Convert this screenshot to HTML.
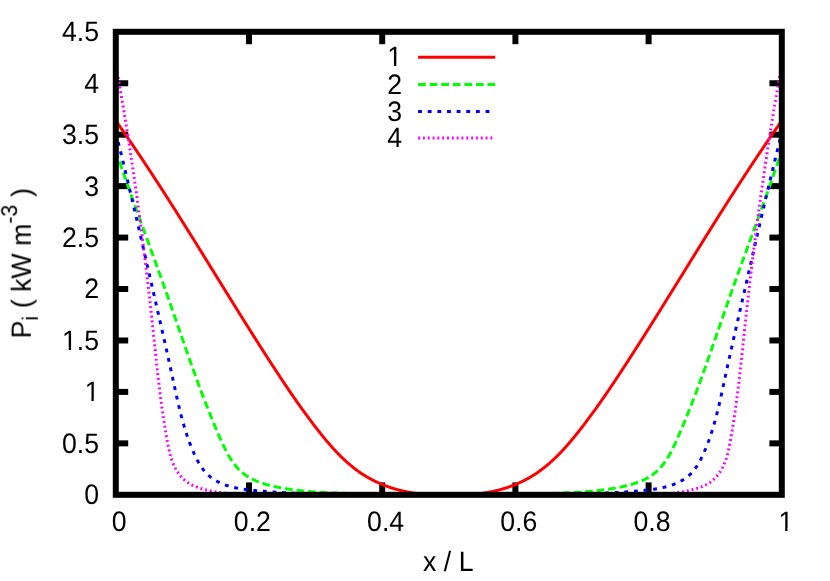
<!DOCTYPE html>
<html lang="en">
<head>
<meta charset="utf-8">
<title>P_i vs x / L</title>
<style>
html, body { margin: 0; padding: 0; background: #ffffff; }
body { width: 830px; height: 581px; overflow: hidden; font-family: "Liberation Sans", sans-serif; }
svg { display: block; }
</style>
</head>
<body>
<svg width="830" height="581" viewBox="0 0 830 581">
<rect x="0" y="0" width="830" height="581" fill="#ffffff"/>
<g stroke="#000" stroke-width="6.0" stroke-linecap="butt" fill="none">
<path d="M115.80,443.36 h12.4"/>
<path d="M781.80,443.36 h-12.4"/>
<path d="M115.80,391.91 h12.4"/>
<path d="M781.80,391.91 h-12.4"/>
<path d="M115.80,340.47 h12.4"/>
<path d="M781.80,340.47 h-12.4"/>
<path d="M115.80,289.02 h12.4"/>
<path d="M781.80,289.02 h-12.4"/>
<path d="M115.80,237.58 h12.4"/>
<path d="M781.80,237.58 h-12.4"/>
<path d="M115.80,186.13 h12.4"/>
<path d="M781.80,186.13 h-12.4"/>
<path d="M115.80,134.69 h12.4"/>
<path d="M781.80,134.69 h-12.4"/>
<path d="M115.80,83.24 h12.4"/>
<path d="M781.80,83.24 h-12.4"/>
<path d="M249.00,494.80 v-12.4"/>
<path d="M249.00,31.80 v12.4"/>
<path d="M382.20,494.80 v-12.4"/>
<path d="M382.20,31.80 v12.4"/>
<path d="M515.40,494.80 v-12.4"/>
<path d="M515.40,31.80 v12.4"/>
<path d="M648.60,494.80 v-12.4"/>
<path d="M648.60,31.80 v12.4"/>
</g>
<clipPath id="c"><rect x="115.8" y="31.8" width="666.0" height="463.0"/></clipPath>
<g fill="none" stroke-width="3.0" stroke-linecap="butt" stroke-linejoin="round" clip-path="url(#c)">
<path stroke="#ff0000" d="M115.80,120.70 L116.17,121.22 L116.54,121.75 L116.91,122.27 L117.28,122.80 L117.65,123.33 L118.02,123.85 L118.39,124.38 L118.76,124.91 L119.13,125.44 L119.50,125.97 L119.87,126.49 L120.24,127.02 L120.62,127.55 L120.99,128.09 L121.36,128.62 L121.73,129.15 L122.10,129.68 L122.47,130.21 L122.84,130.75 L123.21,131.28 L123.58,131.81 L123.95,132.35 L124.32,132.88 L124.69,133.42 L125.06,133.95 L125.43,134.49 L125.80,135.03 L126.17,135.56 L126.54,136.10 L126.91,136.64 L127.28,137.18 L127.65,137.72 L128.02,138.26 L128.39,138.80 L128.76,139.34 L129.13,139.88 L129.51,140.42 L129.88,140.96 L130.25,141.50 L130.62,142.04 L130.99,142.59 L131.36,143.13 L131.73,143.67 L132.10,144.22 L132.47,144.76 L132.84,145.31 L133.21,145.85 L133.58,146.40 L133.95,146.95 L134.32,147.49 L134.69,148.04 L135.06,148.59 L135.43,149.14 L135.80,149.69 L136.17,150.23 L136.54,150.78 L136.91,151.33 L137.28,151.88 L137.65,152.43 L138.02,152.99 L138.40,153.54 L138.77,154.09 L139.14,154.64 L139.51,155.19 L139.88,155.75 L140.25,156.30 L140.62,156.86 L140.99,157.41 L141.36,157.96 L141.73,158.52 L142.10,159.08 L142.47,159.63 L142.84,160.19 L143.21,160.74 L143.58,161.30 L143.95,161.86 L144.32,162.42 L144.69,162.98 L145.06,163.54 L145.43,164.09 L145.80,164.65 L146.17,165.21 L146.54,165.77 L146.91,166.34 L147.28,166.90 L147.66,167.46 L148.03,168.02 L148.40,168.58 L148.77,169.14 L149.14,169.71 L149.51,170.27 L149.88,170.84 L150.25,171.40 L150.62,171.96 L150.99,172.53 L151.36,173.09 L151.73,173.66 L152.10,174.23 L152.47,174.79 L152.84,175.36 L153.21,175.93 L153.58,176.49 L153.95,177.06 L154.32,177.63 L154.69,178.20 L155.06,178.77 L155.43,179.34 L155.80,179.91 L156.17,180.48 L156.55,181.05 L156.92,181.62 L157.29,182.19 L157.66,182.76 L158.03,183.33 L158.40,183.90 L158.77,184.47 L159.14,185.05 L159.51,185.62 L159.88,186.19 L160.25,186.77 L160.62,187.34 L160.99,187.92 L161.36,188.49 L161.73,189.07 L162.10,189.64 L162.47,190.22 L162.84,190.79 L163.21,191.37 L163.58,191.94 L163.95,192.52 L164.32,193.10 L164.69,193.68 L165.06,194.25 L165.44,194.83 L165.81,195.41 L166.18,195.99 L166.55,196.57 L166.92,197.15 L167.29,197.73 L167.66,198.31 L168.03,198.89 L168.40,199.47 L168.77,200.05 L169.14,200.63 L169.51,201.21 L169.88,201.79 L170.25,202.37 L170.62,202.95 L170.99,203.54 L171.36,204.12 L171.73,204.70 L172.10,205.28 L172.47,205.87 L172.84,206.45 L173.21,207.04 L173.58,207.62 L173.95,208.20 L174.33,208.79 L174.70,209.37 L175.07,209.96 L175.44,210.54 L175.81,211.13 L176.18,211.72 L176.55,212.30 L176.92,212.89 L177.29,213.47 L177.66,214.06 L178.03,214.65 L178.40,215.24 L178.77,215.82 L179.14,216.41 L179.51,217.00 L179.88,217.59 L180.25,218.18 L180.62,218.76 L180.99,219.35 L181.36,219.94 L181.73,220.53 L182.10,221.12 L182.47,221.71 L182.84,222.30 L183.21,222.89 L183.59,223.48 L183.96,224.07 L184.33,224.66 L184.70,225.25 L185.07,225.84 L185.44,226.43 L185.81,227.03 L186.18,227.62 L186.55,228.21 L186.92,228.80 L187.29,229.39 L187.66,229.99 L188.03,230.58 L188.40,231.17 L188.77,231.76 L189.14,232.36 L189.51,232.95 L189.88,233.54 L190.25,234.14 L190.62,234.73 L190.99,235.32 L191.36,235.92 L191.73,236.51 L192.10,237.11 L192.48,237.70 L192.85,238.30 L193.22,238.89 L193.59,239.48 L193.96,240.08 L194.33,240.67 L194.70,241.27 L195.07,241.87 L195.44,242.46 L195.81,243.06 L196.18,243.65 L196.55,244.25 L196.92,244.84 L197.29,245.44 L197.66,246.04 L198.03,246.63 L198.40,247.23 L198.77,247.83 L199.14,248.42 L199.51,249.02 L199.88,249.62 L200.25,250.21 L200.62,250.81 L200.99,251.41 L201.37,252.00 L201.74,252.60 L202.11,253.20 L202.48,253.80 L202.85,254.39 L203.22,254.99 L203.59,255.59 L203.96,256.19 L204.33,256.78 L204.70,257.38 L205.07,257.98 L205.44,258.58 L205.81,259.17 L206.18,259.77 L206.55,260.37 L206.92,260.97 L207.29,261.57 L207.66,262.17 L208.03,262.76 L208.40,263.36 L208.77,263.96 L209.14,264.56 L209.51,265.16 L209.88,265.76 L210.25,266.35 L210.63,266.95 L211.00,267.55 L211.37,268.15 L211.74,268.75 L212.11,269.35 L212.48,269.95 L212.85,270.54 L213.22,271.14 L213.59,271.74 L213.96,272.34 L214.33,272.94 L214.70,273.54 L215.07,274.14 L215.44,274.74 L215.81,275.33 L216.18,275.93 L216.55,276.53 L216.92,277.13 L217.29,277.73 L217.66,278.33 L218.03,278.93 L218.40,279.52 L218.77,280.12 L219.14,280.72 L219.52,281.32 L219.89,281.92 L220.26,282.52 L220.63,283.11 L221.00,283.71 L221.37,284.31 L221.74,284.91 L222.11,285.51 L222.48,286.11 L222.85,286.70 L223.22,287.30 L223.59,287.90 L223.96,288.50 L224.33,289.10 L224.70,289.69 L225.07,290.29 L225.44,290.89 L225.81,291.49 L226.18,292.08 L226.55,292.68 L226.92,293.28 L227.29,293.87 L227.66,294.47 L228.03,295.07 L228.41,295.67 L228.78,296.26 L229.15,296.86 L229.52,297.46 L229.89,298.05 L230.26,298.65 L230.63,299.25 L231.00,299.84 L231.37,300.44 L231.74,301.03 L232.11,301.63 L232.48,302.23 L232.85,302.82 L233.22,303.42 L233.59,304.01 L233.96,304.61 L234.33,305.20 L234.70,305.80 L235.07,306.39 L235.44,306.99 L235.81,307.58 L236.18,308.18 L236.55,308.77 L236.92,309.36 L237.29,309.96 L237.67,310.55 L238.04,311.15 L238.41,311.74 L238.78,312.33 L239.15,312.93 L239.52,313.52 L239.89,314.11 L240.26,314.71 L240.63,315.30 L241.00,315.89 L241.37,316.48 L241.74,317.07 L242.11,317.67 L242.48,318.26 L242.85,318.85 L243.22,319.44 L243.59,320.03 L243.96,320.62 L244.33,321.21 L244.70,321.80 L245.07,322.39 L245.44,322.99 L245.81,323.58 L246.18,324.16 L246.56,324.75 L246.93,325.34 L247.30,325.93 L247.67,326.52 L248.04,327.11 L248.41,327.70 L248.78,328.29 L249.15,328.88 L249.52,329.46 L249.89,330.05 L250.26,330.64 L250.63,331.23 L251.00,331.81 L251.37,332.40 L251.74,332.99 L252.11,333.57 L252.48,334.16 L252.85,334.74 L253.22,335.33 L253.59,335.91 L253.96,336.50 L254.33,337.08 L254.70,337.67 L255.07,338.25 L255.45,338.84 L255.82,339.42 L256.19,340.00 L256.56,340.59 L256.93,341.17 L257.30,341.75 L257.67,342.34 L258.04,342.92 L258.41,343.50 L258.78,344.08 L259.15,344.66 L259.52,345.24 L259.89,345.82 L260.26,346.40 L260.63,346.98 L261.00,347.56 L261.37,348.14 L261.74,348.72 L262.11,349.30 L262.48,349.88 L262.85,350.46 L263.22,351.04 L263.59,351.62 L263.96,352.19 L264.34,352.77 L264.71,353.35 L265.08,353.92 L265.45,354.50 L265.82,355.08 L266.19,355.65 L266.56,356.23 L266.93,356.80 L267.30,357.38 L267.67,357.95 L268.04,358.53 L268.41,359.10 L268.78,359.67 L269.15,360.25 L269.52,360.82 L269.89,361.39 L270.26,361.96 L270.63,362.54 L271.00,363.11 L271.37,363.68 L271.74,364.25 L272.11,364.82 L272.48,365.39 L272.85,365.96 L273.22,366.53 L273.60,367.10 L273.97,367.67 L274.34,368.23 L274.71,368.80 L275.08,369.37 L275.45,369.94 L275.82,370.50 L276.19,371.07 L276.56,371.63 L276.93,372.20 L277.30,372.76 L277.67,373.33 L278.04,373.89 L278.41,374.45 L278.78,375.02 L279.15,375.58 L279.52,376.14 L279.89,376.70 L280.26,377.26 L280.63,377.82 L281.00,378.38 L281.37,378.94 L281.74,379.50 L282.11,380.06 L282.49,380.61 L282.86,381.17 L283.23,381.73 L283.60,382.28 L283.97,382.84 L284.34,383.39 L284.71,383.94 L285.08,384.50 L285.45,385.05 L285.82,385.60 L286.19,386.15 L286.56,386.70 L286.93,387.25 L287.30,387.80 L287.67,388.35 L288.04,388.89 L288.41,389.44 L288.78,389.99 L289.15,390.53 L289.52,391.08 L289.89,391.62 L290.26,392.16 L290.63,392.70 L291.00,393.24 L291.38,393.79 L291.75,394.33 L292.12,394.86 L292.49,395.40 L292.86,395.94 L293.23,396.48 L293.60,397.01 L293.97,397.55 L294.34,398.08 L294.71,398.61 L295.08,399.15 L295.45,399.68 L295.82,400.21 L296.19,400.74 L296.56,401.27 L296.93,401.80 L297.30,402.32 L297.67,402.85 L298.04,403.37 L298.41,403.90 L298.78,404.42 L299.15,404.95 L299.52,405.47 L299.89,405.99 L300.26,406.51 L300.64,407.03 L301.01,407.55 L301.38,408.06 L301.75,408.58 L302.12,409.10 L302.49,409.61 L302.86,410.12 L303.23,410.64 L303.60,411.15 L303.97,411.66 L304.34,412.17 L304.71,412.68 L305.08,413.19 L305.45,413.69 L305.82,414.20 L306.19,414.71 L306.56,415.21 L306.93,415.71 L307.30,416.22 L307.67,416.72 L308.04,417.22 L308.41,417.72 L308.78,418.21 L309.15,418.71 L309.53,419.21 L309.90,419.70 L310.27,420.20 L310.64,420.69 L311.01,421.18 L311.38,421.67 L311.75,422.16 L312.12,422.65 L312.49,423.14 L312.86,423.63 L313.23,424.12 L313.60,424.60 L313.97,425.08 L314.34,425.57 L314.71,426.05 L315.08,426.53 L315.45,427.01 L315.82,427.49 L316.19,427.97 L316.56,428.45 L316.93,428.92 L317.30,429.40 L317.67,429.87 L318.04,430.34 L318.42,430.81 L318.79,431.28 L319.16,431.75 L319.53,432.22 L319.90,432.69 L320.27,433.15 L320.64,433.62 L321.01,434.08 L321.38,434.54 L321.75,435.00 L322.12,435.46 L322.49,435.92 L322.86,436.38 L323.23,436.83 L323.60,437.28 L323.97,437.73 L324.34,438.18 L324.71,438.63 L325.08,439.08 L325.45,439.53 L325.82,439.97 L326.19,440.41 L326.56,440.85 L326.93,441.29 L327.31,441.73 L327.68,442.16 L328.05,442.60 L328.42,443.03 L328.79,443.46 L329.16,443.89 L329.53,444.31 L329.90,444.74 L330.27,445.16 L330.64,445.58 L331.01,446.00 L331.38,446.42 L331.75,446.84 L332.12,447.25 L332.49,447.66 L332.86,448.07 L333.23,448.48 L333.60,448.89 L333.97,449.29 L334.34,449.69 L334.71,450.09 L335.08,450.49 L335.45,450.89 L335.82,451.28 L336.19,451.68 L336.57,452.07 L336.94,452.45 L337.31,452.84 L337.68,453.23 L338.05,453.61 L338.42,453.99 L338.79,454.37 L339.16,454.74 L339.53,455.12 L339.90,455.49 L340.27,455.86 L340.64,456.23 L341.01,456.59 L341.38,456.96 L341.75,457.32 L342.12,457.68 L342.49,458.03 L342.86,458.39 L343.23,458.74 L343.60,459.09 L343.97,459.44 L344.34,459.79 L344.71,460.13 L345.08,460.48 L345.46,460.82 L345.83,461.15 L346.20,461.49 L346.57,461.82 L346.94,462.16 L347.31,462.49 L347.68,462.81 L348.05,463.14 L348.42,463.46 L348.79,463.78 L349.16,464.10 L349.53,464.42 L349.90,464.73 L350.27,465.05 L350.64,465.36 L351.01,465.66 L351.38,465.97 L351.75,466.27 L352.12,466.58 L352.49,466.88 L352.86,467.17 L353.23,467.47 L353.60,467.76 L353.97,468.05 L354.35,468.34 L354.72,468.63 L355.09,468.91 L355.46,469.20 L355.83,469.48 L356.20,469.75 L356.57,470.03 L356.94,470.30 L357.31,470.58 L357.68,470.85 L358.05,471.11 L358.42,471.38 L358.79,471.64 L359.16,471.90 L359.53,472.16 L359.90,472.42 L360.27,472.68 L360.64,472.93 L361.01,473.18 L361.38,473.43 L361.75,473.68 L362.12,473.92 L362.49,474.16 L362.86,474.40 L363.23,474.64 L363.61,474.88 L363.98,475.11 L364.35,475.35 L364.72,475.58 L365.09,475.81 L365.46,476.03 L365.83,476.26 L366.20,476.48 L366.57,476.70 L366.94,476.92 L367.31,477.14 L367.68,477.35 L368.05,477.56 L368.42,477.78 L368.79,477.98 L369.16,478.19 L369.53,478.40 L369.90,478.60 L370.27,478.81 L370.64,479.01 L371.01,479.20 L371.38,479.40 L371.75,479.60 L372.12,479.79 L372.50,479.98 L372.87,480.17 L373.24,480.36 L373.61,480.55 L373.98,480.74 L374.35,480.92 L374.72,481.10 L375.09,481.28 L375.46,481.46 L375.83,481.64 L376.20,481.82 L376.57,481.99 L376.94,482.16 L377.31,482.34 L377.68,482.51 L378.05,482.68 L378.42,482.84 L378.79,483.01 L379.16,483.17 L379.53,483.33 L379.90,483.50 L380.27,483.66 L380.64,483.81 L381.01,483.97 L381.39,484.13 L381.76,484.28 L382.13,484.43 L382.50,484.59 L382.87,484.74 L383.24,484.88 L383.61,485.03 L383.98,485.18 L384.35,485.32 L384.72,485.47 L385.09,485.61 L385.46,485.75 L385.83,485.89 L386.20,486.03 L386.57,486.16 L386.94,486.30 L387.31,486.43 L387.68,486.57 L388.05,486.70 L388.42,486.83 L388.79,486.96 L389.16,487.08 L389.53,487.21 L389.90,487.34 L390.27,487.46 L390.65,487.58 L391.02,487.71 L391.39,487.83 L391.76,487.95 L392.13,488.06 L392.50,488.18 L392.87,488.30 L393.24,488.41 L393.61,488.52 L393.98,488.64 L394.35,488.75 L394.72,488.86 L395.09,488.97 L395.46,489.07 L395.83,489.18 L396.20,489.29 L396.57,489.39 L396.94,489.49 L397.31,489.59 L397.68,489.70 L398.05,489.80 L398.42,489.89 L398.79,489.99 L399.16,490.09 L399.54,490.18 L399.91,490.28 L400.28,490.37 L400.65,490.46 L401.02,490.55 L401.39,490.64 L401.76,490.73 L402.13,490.82 L402.50,490.91 L402.87,490.99 L403.24,491.08 L403.61,491.16 L403.98,491.24 L404.35,491.32 L404.72,491.40 L405.09,491.48 L405.46,491.56 L405.83,491.64 L406.20,491.72 L406.57,491.79 L406.94,491.87 L407.31,491.94 L407.68,492.01 L408.05,492.08 L408.43,492.15 L408.80,492.22 L409.17,492.29 L409.54,492.36 L409.91,492.42 L410.28,492.49 L410.65,492.55 L411.02,492.62 L411.39,492.68 L411.76,492.74 L412.13,492.80 L412.50,492.86 L412.87,492.92 L413.24,492.97 L413.61,493.03 L413.98,493.09 L414.35,493.14 L414.72,493.19 L415.09,493.25 L415.46,493.30 L415.83,493.35 L416.20,493.40 L416.57,493.45 L416.94,493.50 L417.32,493.54 L417.69,493.59 L418.06,493.63 L418.43,493.68 L418.80,493.72 L419.17,493.76 L419.54,493.80 L419.91,493.84 L420.28,493.88 L420.65,493.92 L421.02,493.96 L421.39,494.00 L421.76,494.03 L422.13,494.07 L422.50,494.10 L422.87,494.13 L423.24,494.16 L423.61,494.20 L423.98,494.23 L424.35,494.25 L424.72,494.28 L425.09,494.31 L425.46,494.34 L425.83,494.36 L426.20,494.39 L426.58,494.41 L426.95,494.43 L427.32,494.46 L427.69,494.48 L428.06,494.50 L428.43,494.52 L428.80,494.53 L429.17,494.55 L429.54,494.57 L429.91,494.58 L430.28,494.60 L430.65,494.61 L431.02,494.63 L431.39,494.64 L431.76,494.65 L432.13,494.66 L432.50,494.67 L432.87,494.68 L433.24,494.69 L433.61,494.69 L433.98,494.70 L434.35,494.70 L434.72,494.71 L435.09,494.71 L435.47,494.71 L435.84,494.71 L436.21,494.71 L436.58,494.71 L436.95,494.71 L437.32,494.71 L437.69,494.71 L438.06,494.71 L438.43,494.71 L438.80,494.71 L439.17,494.71 L439.54,494.71 L439.91,494.71 L440.28,494.71 L440.65,494.71 L441.02,494.71 L441.39,494.71 L441.76,494.71 L442.13,494.71 L442.50,494.71 L442.87,494.71 L443.24,494.71 L443.61,494.71 L443.98,494.71 L444.36,494.71 L444.73,494.71 L445.10,494.71 L445.47,494.71 L445.84,494.71 L446.21,494.71 L446.58,494.71 L446.95,494.71 L447.32,494.71 L447.69,494.71 L448.06,494.71 L448.43,494.71 L448.80,494.71 L449.17,494.71 L449.54,494.71 L449.91,494.71 L450.28,494.71 L450.65,494.71 L451.02,494.71 L451.39,494.71 L451.76,494.71 L452.13,494.71 L452.50,494.71 L452.87,494.71 L453.24,494.71 L453.62,494.71 L453.99,494.71 L454.36,494.71 L454.73,494.71 L455.10,494.71 L455.47,494.71 L455.84,494.71 L456.21,494.71 L456.58,494.71 L456.95,494.71 L457.32,494.71 L457.69,494.71 L458.06,494.71 L458.43,494.71 L458.80,494.71 L459.17,494.71 L459.54,494.71 L459.91,494.71 L460.28,494.71 L460.65,494.71 L461.02,494.71 L461.39,494.71 L461.76,494.71 L462.13,494.71 L462.51,494.71 L462.88,494.71 L463.25,494.70 L463.62,494.70 L463.99,494.69 L464.36,494.69 L464.73,494.68 L465.10,494.67 L465.47,494.66 L465.84,494.65 L466.21,494.64 L466.58,494.63 L466.95,494.61 L467.32,494.60 L467.69,494.58 L468.06,494.57 L468.43,494.55 L468.80,494.53 L469.17,494.52 L469.54,494.50 L469.91,494.48 L470.28,494.46 L470.65,494.43 L471.02,494.41 L471.40,494.39 L471.77,494.36 L472.14,494.34 L472.51,494.31 L472.88,494.28 L473.25,494.25 L473.62,494.23 L473.99,494.20 L474.36,494.16 L474.73,494.13 L475.10,494.10 L475.47,494.07 L475.84,494.03 L476.21,494.00 L476.58,493.96 L476.95,493.92 L477.32,493.88 L477.69,493.84 L478.06,493.80 L478.43,493.76 L478.80,493.72 L479.17,493.68 L479.54,493.63 L479.91,493.59 L480.28,493.54 L480.66,493.50 L481.03,493.45 L481.40,493.40 L481.77,493.35 L482.14,493.30 L482.51,493.25 L482.88,493.19 L483.25,493.14 L483.62,493.09 L483.99,493.03 L484.36,492.97 L484.73,492.92 L485.10,492.86 L485.47,492.80 L485.84,492.74 L486.21,492.68 L486.58,492.62 L486.95,492.55 L487.32,492.49 L487.69,492.42 L488.06,492.36 L488.43,492.29 L488.80,492.22 L489.17,492.15 L489.55,492.08 L489.92,492.01 L490.29,491.94 L490.66,491.87 L491.03,491.79 L491.40,491.72 L491.77,491.64 L492.14,491.56 L492.51,491.48 L492.88,491.40 L493.25,491.32 L493.62,491.24 L493.99,491.16 L494.36,491.08 L494.73,490.99 L495.10,490.91 L495.47,490.82 L495.84,490.73 L496.21,490.64 L496.58,490.55 L496.95,490.46 L497.32,490.37 L497.69,490.28 L498.06,490.18 L498.44,490.09 L498.81,489.99 L499.18,489.89 L499.55,489.80 L499.92,489.70 L500.29,489.59 L500.66,489.49 L501.03,489.39 L501.40,489.29 L501.77,489.18 L502.14,489.07 L502.51,488.97 L502.88,488.86 L503.25,488.75 L503.62,488.64 L503.99,488.52 L504.36,488.41 L504.73,488.30 L505.10,488.18 L505.47,488.06 L505.84,487.95 L506.21,487.83 L506.58,487.71 L506.95,487.58 L507.33,487.46 L507.70,487.34 L508.07,487.21 L508.44,487.08 L508.81,486.96 L509.18,486.83 L509.55,486.70 L509.92,486.57 L510.29,486.43 L510.66,486.30 L511.03,486.16 L511.40,486.03 L511.77,485.89 L512.14,485.75 L512.51,485.61 L512.88,485.47 L513.25,485.32 L513.62,485.18 L513.99,485.03 L514.36,484.88 L514.73,484.74 L515.10,484.59 L515.47,484.43 L515.84,484.28 L516.21,484.13 L516.59,483.97 L516.96,483.81 L517.33,483.66 L517.70,483.50 L518.07,483.33 L518.44,483.17 L518.81,483.01 L519.18,482.84 L519.55,482.68 L519.92,482.51 L520.29,482.34 L520.66,482.16 L521.03,481.99 L521.40,481.82 L521.77,481.64 L522.14,481.46 L522.51,481.28 L522.88,481.10 L523.25,480.92 L523.62,480.74 L523.99,480.55 L524.36,480.36 L524.73,480.17 L525.10,479.98 L525.48,479.79 L525.85,479.60 L526.22,479.40 L526.59,479.20 L526.96,479.01 L527.33,478.81 L527.70,478.60 L528.07,478.40 L528.44,478.19 L528.81,477.98 L529.18,477.78 L529.55,477.56 L529.92,477.35 L530.29,477.14 L530.66,476.92 L531.03,476.70 L531.40,476.48 L531.77,476.26 L532.14,476.03 L532.51,475.81 L532.88,475.58 L533.25,475.35 L533.62,475.11 L533.99,474.88 L534.37,474.64 L534.74,474.40 L535.11,474.16 L535.48,473.92 L535.85,473.68 L536.22,473.43 L536.59,473.18 L536.96,472.93 L537.33,472.68 L537.70,472.42 L538.07,472.16 L538.44,471.90 L538.81,471.64 L539.18,471.38 L539.55,471.11 L539.92,470.85 L540.29,470.58 L540.66,470.30 L541.03,470.03 L541.40,469.75 L541.77,469.48 L542.14,469.20 L542.51,468.91 L542.88,468.63 L543.25,468.34 L543.63,468.05 L544.00,467.76 L544.37,467.47 L544.74,467.17 L545.11,466.88 L545.48,466.58 L545.85,466.27 L546.22,465.97 L546.59,465.66 L546.96,465.36 L547.33,465.05 L547.70,464.73 L548.07,464.42 L548.44,464.10 L548.81,463.78 L549.18,463.46 L549.55,463.14 L549.92,462.81 L550.29,462.49 L550.66,462.16 L551.03,461.82 L551.40,461.49 L551.77,461.15 L552.14,460.82 L552.52,460.48 L552.89,460.13 L553.26,459.79 L553.63,459.44 L554.00,459.09 L554.37,458.74 L554.74,458.39 L555.11,458.03 L555.48,457.68 L555.85,457.32 L556.22,456.96 L556.59,456.59 L556.96,456.23 L557.33,455.86 L557.70,455.49 L558.07,455.12 L558.44,454.74 L558.81,454.37 L559.18,453.99 L559.55,453.61 L559.92,453.23 L560.29,452.84 L560.66,452.45 L561.03,452.07 L561.41,451.68 L561.78,451.28 L562.15,450.89 L562.52,450.49 L562.89,450.09 L563.26,449.69 L563.63,449.29 L564.00,448.89 L564.37,448.48 L564.74,448.07 L565.11,447.66 L565.48,447.25 L565.85,446.84 L566.22,446.42 L566.59,446.00 L566.96,445.58 L567.33,445.16 L567.70,444.74 L568.07,444.31 L568.44,443.89 L568.81,443.46 L569.18,443.03 L569.55,442.60 L569.92,442.16 L570.29,441.73 L570.67,441.29 L571.04,440.85 L571.41,440.41 L571.78,439.97 L572.15,439.53 L572.52,439.08 L572.89,438.63 L573.26,438.18 L573.63,437.73 L574.00,437.28 L574.37,436.83 L574.74,436.38 L575.11,435.92 L575.48,435.46 L575.85,435.00 L576.22,434.54 L576.59,434.08 L576.96,433.62 L577.33,433.15 L577.70,432.69 L578.07,432.22 L578.44,431.75 L578.81,431.28 L579.18,430.81 L579.56,430.34 L579.93,429.87 L580.30,429.40 L580.67,428.92 L581.04,428.45 L581.41,427.97 L581.78,427.49 L582.15,427.01 L582.52,426.53 L582.89,426.05 L583.26,425.57 L583.63,425.08 L584.00,424.60 L584.37,424.12 L584.74,423.63 L585.11,423.14 L585.48,422.65 L585.85,422.16 L586.22,421.67 L586.59,421.18 L586.96,420.69 L587.33,420.20 L587.70,419.70 L588.07,419.21 L588.45,418.71 L588.82,418.21 L589.19,417.72 L589.56,417.22 L589.93,416.72 L590.30,416.22 L590.67,415.71 L591.04,415.21 L591.41,414.71 L591.78,414.20 L592.15,413.69 L592.52,413.19 L592.89,412.68 L593.26,412.17 L593.63,411.66 L594.00,411.15 L594.37,410.64 L594.74,410.12 L595.11,409.61 L595.48,409.10 L595.85,408.58 L596.22,408.06 L596.59,407.55 L596.96,407.03 L597.34,406.51 L597.71,405.99 L598.08,405.47 L598.45,404.95 L598.82,404.42 L599.19,403.90 L599.56,403.37 L599.93,402.85 L600.30,402.32 L600.67,401.80 L601.04,401.27 L601.41,400.74 L601.78,400.21 L602.15,399.68 L602.52,399.15 L602.89,398.61 L603.26,398.08 L603.63,397.55 L604.00,397.01 L604.37,396.48 L604.74,395.94 L605.11,395.40 L605.48,394.86 L605.85,394.33 L606.22,393.79 L606.60,393.24 L606.97,392.70 L607.34,392.16 L607.71,391.62 L608.08,391.08 L608.45,390.53 L608.82,389.99 L609.19,389.44 L609.56,388.89 L609.93,388.35 L610.30,387.80 L610.67,387.25 L611.04,386.70 L611.41,386.15 L611.78,385.60 L612.15,385.05 L612.52,384.50 L612.89,383.94 L613.26,383.39 L613.63,382.84 L614.00,382.28 L614.37,381.73 L614.74,381.17 L615.11,380.61 L615.49,380.06 L615.86,379.50 L616.23,378.94 L616.60,378.38 L616.97,377.82 L617.34,377.26 L617.71,376.70 L618.08,376.14 L618.45,375.58 L618.82,375.02 L619.19,374.45 L619.56,373.89 L619.93,373.33 L620.30,372.76 L620.67,372.20 L621.04,371.63 L621.41,371.07 L621.78,370.50 L622.15,369.94 L622.52,369.37 L622.89,368.80 L623.26,368.23 L623.63,367.67 L624.00,367.10 L624.38,366.53 L624.75,365.96 L625.12,365.39 L625.49,364.82 L625.86,364.25 L626.23,363.68 L626.60,363.11 L626.97,362.54 L627.34,361.96 L627.71,361.39 L628.08,360.82 L628.45,360.25 L628.82,359.67 L629.19,359.10 L629.56,358.53 L629.93,357.95 L630.30,357.38 L630.67,356.80 L631.04,356.23 L631.41,355.65 L631.78,355.08 L632.15,354.50 L632.52,353.92 L632.89,353.35 L633.26,352.77 L633.64,352.19 L634.01,351.62 L634.38,351.04 L634.75,350.46 L635.12,349.88 L635.49,349.30 L635.86,348.72 L636.23,348.14 L636.60,347.56 L636.97,346.98 L637.34,346.40 L637.71,345.82 L638.08,345.24 L638.45,344.66 L638.82,344.08 L639.19,343.50 L639.56,342.92 L639.93,342.34 L640.30,341.75 L640.67,341.17 L641.04,340.59 L641.41,340.00 L641.78,339.42 L642.15,338.84 L642.53,338.25 L642.90,337.67 L643.27,337.08 L643.64,336.50 L644.01,335.91 L644.38,335.33 L644.75,334.74 L645.12,334.16 L645.49,333.57 L645.86,332.99 L646.23,332.40 L646.60,331.81 L646.97,331.23 L647.34,330.64 L647.71,330.05 L648.08,329.46 L648.45,328.88 L648.82,328.29 L649.19,327.70 L649.56,327.11 L649.93,326.52 L650.30,325.93 L650.67,325.34 L651.04,324.75 L651.42,324.16 L651.79,323.58 L652.16,322.99 L652.53,322.39 L652.90,321.80 L653.27,321.21 L653.64,320.62 L654.01,320.03 L654.38,319.44 L654.75,318.85 L655.12,318.26 L655.49,317.67 L655.86,317.07 L656.23,316.48 L656.60,315.89 L656.97,315.30 L657.34,314.71 L657.71,314.11 L658.08,313.52 L658.45,312.93 L658.82,312.33 L659.19,311.74 L659.56,311.15 L659.93,310.55 L660.31,309.96 L660.68,309.36 L661.05,308.77 L661.42,308.18 L661.79,307.58 L662.16,306.99 L662.53,306.39 L662.90,305.80 L663.27,305.20 L663.64,304.61 L664.01,304.01 L664.38,303.42 L664.75,302.82 L665.12,302.23 L665.49,301.63 L665.86,301.03 L666.23,300.44 L666.60,299.84 L666.97,299.25 L667.34,298.65 L667.71,298.05 L668.08,297.46 L668.45,296.86 L668.82,296.26 L669.19,295.67 L669.57,295.07 L669.94,294.47 L670.31,293.87 L670.68,293.28 L671.05,292.68 L671.42,292.08 L671.79,291.49 L672.16,290.89 L672.53,290.29 L672.90,289.69 L673.27,289.10 L673.64,288.50 L674.01,287.90 L674.38,287.30 L674.75,286.70 L675.12,286.11 L675.49,285.51 L675.86,284.91 L676.23,284.31 L676.60,283.71 L676.97,283.11 L677.34,282.52 L677.71,281.92 L678.08,281.32 L678.46,280.72 L678.83,280.12 L679.20,279.52 L679.57,278.93 L679.94,278.33 L680.31,277.73 L680.68,277.13 L681.05,276.53 L681.42,275.93 L681.79,275.33 L682.16,274.74 L682.53,274.14 L682.90,273.54 L683.27,272.94 L683.64,272.34 L684.01,271.74 L684.38,271.14 L684.75,270.54 L685.12,269.95 L685.49,269.35 L685.86,268.75 L686.23,268.15 L686.60,267.55 L686.97,266.95 L687.35,266.35 L687.72,265.76 L688.09,265.16 L688.46,264.56 L688.83,263.96 L689.20,263.36 L689.57,262.76 L689.94,262.17 L690.31,261.57 L690.68,260.97 L691.05,260.37 L691.42,259.77 L691.79,259.17 L692.16,258.58 L692.53,257.98 L692.90,257.38 L693.27,256.78 L693.64,256.19 L694.01,255.59 L694.38,254.99 L694.75,254.39 L695.12,253.80 L695.49,253.20 L695.86,252.60 L696.23,252.00 L696.61,251.41 L696.98,250.81 L697.35,250.21 L697.72,249.62 L698.09,249.02 L698.46,248.42 L698.83,247.83 L699.20,247.23 L699.57,246.63 L699.94,246.04 L700.31,245.44 L700.68,244.84 L701.05,244.25 L701.42,243.65 L701.79,243.06 L702.16,242.46 L702.53,241.87 L702.90,241.27 L703.27,240.67 L703.64,240.08 L704.01,239.48 L704.38,238.89 L704.75,238.30 L705.12,237.70 L705.50,237.11 L705.87,236.51 L706.24,235.92 L706.61,235.32 L706.98,234.73 L707.35,234.14 L707.72,233.54 L708.09,232.95 L708.46,232.36 L708.83,231.76 L709.20,231.17 L709.57,230.58 L709.94,229.99 L710.31,229.39 L710.68,228.80 L711.05,228.21 L711.42,227.62 L711.79,227.03 L712.16,226.43 L712.53,225.84 L712.90,225.25 L713.27,224.66 L713.64,224.07 L714.01,223.48 L714.39,222.89 L714.76,222.30 L715.13,221.71 L715.50,221.12 L715.87,220.53 L716.24,219.94 L716.61,219.35 L716.98,218.76 L717.35,218.18 L717.72,217.59 L718.09,217.00 L718.46,216.41 L718.83,215.82 L719.20,215.24 L719.57,214.65 L719.94,214.06 L720.31,213.47 L720.68,212.89 L721.05,212.30 L721.42,211.72 L721.79,211.13 L722.16,210.54 L722.53,209.96 L722.90,209.37 L723.27,208.79 L723.65,208.20 L724.02,207.62 L724.39,207.04 L724.76,206.45 L725.13,205.87 L725.50,205.28 L725.87,204.70 L726.24,204.12 L726.61,203.54 L726.98,202.95 L727.35,202.37 L727.72,201.79 L728.09,201.21 L728.46,200.63 L728.83,200.05 L729.20,199.47 L729.57,198.89 L729.94,198.31 L730.31,197.73 L730.68,197.15 L731.05,196.57 L731.42,195.99 L731.79,195.41 L732.16,194.83 L732.54,194.25 L732.91,193.68 L733.28,193.10 L733.65,192.52 L734.02,191.94 L734.39,191.37 L734.76,190.79 L735.13,190.22 L735.50,189.64 L735.87,189.07 L736.24,188.49 L736.61,187.92 L736.98,187.34 L737.35,186.77 L737.72,186.19 L738.09,185.62 L738.46,185.05 L738.83,184.47 L739.20,183.90 L739.57,183.33 L739.94,182.76 L740.31,182.19 L740.68,181.62 L741.05,181.05 L741.43,180.48 L741.80,179.91 L742.17,179.34 L742.54,178.77 L742.91,178.20 L743.28,177.63 L743.65,177.06 L744.02,176.49 L744.39,175.93 L744.76,175.36 L745.13,174.79 L745.50,174.23 L745.87,173.66 L746.24,173.09 L746.61,172.53 L746.98,171.96 L747.35,171.40 L747.72,170.84 L748.09,170.27 L748.46,169.71 L748.83,169.14 L749.20,168.58 L749.57,168.02 L749.94,167.46 L750.32,166.90 L750.69,166.34 L751.06,165.77 L751.43,165.21 L751.80,164.65 L752.17,164.09 L752.54,163.54 L752.91,162.98 L753.28,162.42 L753.65,161.86 L754.02,161.30 L754.39,160.74 L754.76,160.19 L755.13,159.63 L755.50,159.08 L755.87,158.52 L756.24,157.96 L756.61,157.41 L756.98,156.86 L757.35,156.30 L757.72,155.75 L758.09,155.19 L758.46,154.64 L758.83,154.09 L759.20,153.54 L759.58,152.99 L759.95,152.43 L760.32,151.88 L760.69,151.33 L761.06,150.78 L761.43,150.23 L761.80,149.69 L762.17,149.14 L762.54,148.59 L762.91,148.04 L763.28,147.49 L763.65,146.95 L764.02,146.40 L764.39,145.85 L764.76,145.31 L765.13,144.76 L765.50,144.22 L765.87,143.67 L766.24,143.13 L766.61,142.59 L766.98,142.04 L767.35,141.50 L767.72,140.96 L768.09,140.42 L768.47,139.88 L768.84,139.34 L769.21,138.80 L769.58,138.26 L769.95,137.72 L770.32,137.18 L770.69,136.64 L771.06,136.10 L771.43,135.56 L771.80,135.03 L772.17,134.49 L772.54,133.95 L772.91,133.42 L773.28,132.88 L773.65,132.35 L774.02,131.81 L774.39,131.28 L774.76,130.75 L775.13,130.21 L775.50,129.68 L775.87,129.15 L776.24,128.62 L776.61,128.09 L776.98,127.55 L777.36,127.02 L777.73,126.49 L778.10,125.97 L778.47,125.44 L778.84,124.91 L779.21,124.38 L779.58,123.85 L779.95,123.33 L780.32,122.80 L780.69,122.27 L781.06,121.75 L781.43,121.22 L781.80,120.70"/>
<path stroke="#00ff00" stroke-dasharray="7.71 3.86" stroke-dashoffset="0.00" d="M115.80,150.67 L116.17,151.78 L116.54,152.89 L116.91,154.00 L117.28,155.10 L117.65,156.20 L118.02,157.30 L118.39,158.40 L118.76,159.49 L119.13,160.59 L119.50,161.68 L119.87,162.77 L120.24,163.85 L120.62,164.94 L120.99,166.02 L121.36,167.10 L121.73,168.18 L122.10,169.26 L122.47,170.33 L122.84,171.40 L123.21,172.47 L123.58,173.54 L123.95,174.61 L124.32,175.68 L124.69,176.74 L125.06,177.80 L125.43,178.86 L125.80,179.92 L126.17,180.98 L126.54,182.04 L126.91,183.09 L127.28,184.15 L127.65,185.20 L128.02,186.25 L128.39,187.30 L128.76,188.35 L129.13,189.39 L129.51,190.44 L129.88,191.48 L130.25,192.53 L130.62,193.57 L130.99,194.61 L131.36,195.65 L131.73,196.69 L132.10,197.73 L132.47,198.76 L132.84,199.80 L133.21,200.83 L133.58,201.87 L133.95,202.90 L134.32,203.93 L134.69,204.96 L135.06,205.99 L135.43,207.02 L135.80,208.05 L136.17,209.08 L136.54,210.11 L136.91,211.14 L137.28,212.16 L137.65,213.19 L138.02,214.21 L138.40,215.24 L138.77,216.26 L139.14,217.28 L139.51,218.31 L139.88,219.33 L140.25,220.35 L140.62,221.37 L140.99,222.39 L141.36,223.41 L141.73,224.43 L142.10,225.45 L142.47,226.47 L142.84,227.49 L143.21,228.51 L143.58,229.53 L143.95,230.55 L144.32,231.57 L144.69,232.58 L145.06,233.60 L145.43,234.62 L145.80,235.64 L146.17,236.66 L146.54,237.67 L146.91,238.69 L147.28,239.71 L147.66,240.73 L148.03,241.74 L148.40,242.76 L148.77,243.78 L149.14,244.80 L149.51,245.81 L149.88,246.83 L150.25,247.85 L150.62,248.87 L150.99,249.89 L151.36,250.90 L151.73,251.92 L152.10,252.94 L152.47,253.96 L152.84,254.98 L153.21,256.00 L153.58,257.02 L153.95,258.04 L154.32,259.07 L154.69,260.09 L155.06,261.11 L155.43,262.13 L155.80,263.16 L156.17,264.18 L156.55,265.21 L156.92,266.23 L157.29,267.26 L157.66,268.28 L158.03,269.31 L158.40,270.34 L158.77,271.37 L159.14,272.39 L159.51,273.42 L159.88,274.46 L160.25,275.49 L160.62,276.52 L160.99,277.55 L161.36,278.59 L161.73,279.62 L162.10,280.66 L162.47,281.69 L162.84,282.73 L163.21,283.77 L163.58,284.81 L163.95,285.85 L164.32,286.90 L164.69,287.94 L165.06,288.98 L165.44,290.03 L165.81,291.08 L166.18,292.12 L166.55,293.17 L166.92,294.23 L167.29,295.28 L167.66,296.33 L168.03,297.39 L168.40,298.44 L168.77,299.50 L169.14,300.56 L169.51,301.62 L169.88,302.68 L170.25,303.75 L170.62,304.81 L170.99,305.87 L171.36,306.94 L171.73,308.01 L172.10,309.07 L172.47,310.14 L172.84,311.21 L173.21,312.28 L173.58,313.35 L173.95,314.43 L174.33,315.50 L174.70,316.57 L175.07,317.64 L175.44,318.72 L175.81,319.79 L176.18,320.87 L176.55,321.94 L176.92,323.01 L177.29,324.09 L177.66,325.17 L178.03,326.24 L178.40,327.32 L178.77,328.39 L179.14,329.47 L179.51,330.54 L179.88,331.62 L180.25,332.69 L180.62,333.76 L180.99,334.84 L181.36,335.91 L181.73,336.99 L182.10,338.06 L182.47,339.13 L182.84,340.20 L183.21,341.27 L183.59,342.34 L183.96,343.41 L184.33,344.48 L184.70,345.55 L185.07,346.61 L185.44,347.68 L185.81,348.74 L186.18,349.81 L186.55,350.87 L186.92,351.93 L187.29,352.99 L187.66,354.05 L188.03,355.11 L188.40,356.16 L188.77,357.22 L189.14,358.27 L189.51,359.32 L189.88,360.37 L190.25,361.42 L190.62,362.47 L190.99,363.51 L191.36,364.56 L191.73,365.60 L192.10,366.64 L192.48,367.68 L192.85,368.71 L193.22,369.75 L193.59,370.78 L193.96,371.81 L194.33,372.84 L194.70,373.86 L195.07,374.89 L195.44,375.91 L195.81,376.93 L196.18,377.95 L196.55,378.97 L196.92,379.98 L197.29,380.99 L197.66,382.00 L198.03,383.01 L198.40,384.01 L198.77,385.01 L199.14,386.01 L199.51,387.01 L199.88,388.01 L200.25,389.00 L200.62,389.99 L200.99,390.98 L201.37,391.96 L201.74,392.94 L202.11,393.92 L202.48,394.90 L202.85,395.87 L203.22,396.85 L203.59,397.82 L203.96,398.78 L204.33,399.75 L204.70,400.71 L205.07,401.67 L205.44,402.62 L205.81,403.58 L206.18,404.53 L206.55,405.47 L206.92,406.42 L207.29,407.36 L207.66,408.30 L208.03,409.24 L208.40,410.17 L208.77,411.10 L209.14,412.03 L209.51,412.96 L209.88,413.88 L210.25,414.80 L210.63,415.72 L211.00,416.63 L211.37,417.54 L211.74,418.45 L212.11,419.36 L212.48,420.26 L212.85,421.16 L213.22,422.06 L213.59,422.95 L213.96,423.84 L214.33,424.73 L214.70,425.62 L215.07,426.50 L215.44,427.38 L215.81,428.26 L216.18,429.13 L216.55,430.00 L216.92,430.87 L217.29,431.74 L217.66,432.60 L218.03,433.46 L218.40,434.32 L218.77,435.17 L219.14,436.02 L219.52,436.87 L219.89,437.72 L220.26,438.56 L220.63,439.40 L221.00,440.23 L221.37,441.06 L221.74,441.88 L222.11,442.70 L222.48,443.51 L222.85,444.31 L223.22,445.11 L223.59,445.89 L223.96,446.67 L224.33,447.44 L224.70,448.20 L225.07,448.95 L225.44,449.69 L225.81,450.42 L226.18,451.13 L226.55,451.84 L226.92,452.54 L227.29,453.23 L227.66,453.90 L228.03,454.57 L228.41,455.22 L228.78,455.86 L229.15,456.49 L229.52,457.11 L229.89,457.72 L230.26,458.32 L230.63,458.91 L231.00,459.49 L231.37,460.06 L231.74,460.61 L232.11,461.16 L232.48,461.69 L232.85,462.22 L233.22,462.74 L233.59,463.24 L233.96,463.74 L234.33,464.22 L234.70,464.70 L235.07,465.17 L235.44,465.63 L235.81,466.08 L236.18,466.52 L236.55,466.95 L236.92,467.37 L237.29,467.79 L237.67,468.19 L238.04,468.59 L238.41,468.98 L238.78,469.37 L239.15,469.74 L239.52,470.11 L239.89,470.47 L240.26,470.82 L240.63,471.16 L241.00,471.50 L241.37,471.83 L241.74,472.16 L242.11,472.47 L242.48,472.78 L242.85,473.09 L243.22,473.39 L243.59,473.68 L243.96,473.96 L244.33,474.24 L244.70,474.52 L245.07,474.78 L245.44,475.05 L245.81,475.30 L246.18,475.56 L246.56,475.80 L246.93,476.05 L247.30,476.28 L247.67,476.52 L248.04,476.75 L248.41,476.97 L248.78,477.19 L249.15,477.41 L249.52,477.62 L249.89,477.83 L250.26,478.04 L250.63,478.24 L251.00,478.44 L251.37,478.64 L251.74,478.83 L252.11,479.02 L252.48,479.21 L252.85,479.39 L253.22,479.57 L253.59,479.75 L253.96,479.92 L254.33,480.10 L254.70,480.27 L255.07,480.43 L255.45,480.60 L255.82,480.76 L256.19,480.92 L256.56,481.07 L256.93,481.23 L257.30,481.38 L257.67,481.53 L258.04,481.68 L258.41,481.82 L258.78,481.97 L259.15,482.11 L259.52,482.25 L259.89,482.38 L260.26,482.52 L260.63,482.65 L261.00,482.78 L261.37,482.91 L261.74,483.04 L262.11,483.17 L262.48,483.29 L262.85,483.41 L263.22,483.53 L263.59,483.65 L263.96,483.77 L264.34,483.88 L264.71,484.00 L265.08,484.11 L265.45,484.22 L265.82,484.33 L266.19,484.44 L266.56,484.54 L266.93,484.65 L267.30,484.75 L267.67,484.85 L268.04,484.95 L268.41,485.05 L268.78,485.15 L269.15,485.24 L269.52,485.34 L269.89,485.43 L270.26,485.53 L270.63,485.62 L271.00,485.71 L271.37,485.80 L271.74,485.89 L272.11,485.97 L272.48,486.06 L272.85,486.15 L273.22,486.23 L273.60,486.31 L273.97,486.40 L274.34,486.48 L274.71,486.56 L275.08,486.64 L275.45,486.72 L275.82,486.80 L276.19,486.87 L276.56,486.95 L276.93,487.03 L277.30,487.10 L277.67,487.18 L278.04,487.25 L278.41,487.33 L278.78,487.40 L279.15,487.47 L279.52,487.55 L279.89,487.62 L280.26,487.69 L280.63,487.76 L281.00,487.83 L281.37,487.90 L281.74,487.96 L282.11,488.03 L282.49,488.10 L282.86,488.16 L283.23,488.23 L283.60,488.29 L283.97,488.36 L284.34,488.42 L284.71,488.49 L285.08,488.55 L285.45,488.61 L285.82,488.67 L286.19,488.73 L286.56,488.79 L286.93,488.85 L287.30,488.91 L287.67,488.97 L288.04,489.03 L288.41,489.09 L288.78,489.15 L289.15,489.20 L289.52,489.26 L289.89,489.31 L290.26,489.37 L290.63,489.42 L291.00,489.48 L291.38,489.53 L291.75,489.58 L292.12,489.63 L292.49,489.69 L292.86,489.74 L293.23,489.79 L293.60,489.84 L293.97,489.89 L294.34,489.94 L294.71,489.98 L295.08,490.03 L295.45,490.08 L295.82,490.13 L296.19,490.17 L296.56,490.22 L296.93,490.27 L297.30,490.31 L297.67,490.36 L298.04,490.40 L298.41,490.44 L298.78,490.49 L299.15,490.53 L299.52,490.57 L299.89,490.61 L300.26,490.66 L300.64,490.70 L301.01,490.74 L301.38,490.78 L301.75,490.82 L302.12,490.86 L302.49,490.90 L302.86,490.93 L303.23,490.97 L303.60,491.01 L303.97,491.05 L304.34,491.08 L304.71,491.12 L305.08,491.15 L305.45,491.19 L305.82,491.23 L306.19,491.26 L306.56,491.29 L306.93,491.33 L307.30,491.36 L307.67,491.39 L308.04,491.43 L308.41,491.46 L308.78,491.49 L309.15,491.52 L309.53,491.55 L309.90,491.59 L310.27,491.62 L310.64,491.65 L311.01,491.68 L311.38,491.71 L311.75,491.73 L312.12,491.76 L312.49,491.79 L312.86,491.82 L313.23,491.85 L313.60,491.88 L313.97,491.90 L314.34,491.93 L314.71,491.96 L315.08,491.98 L315.45,492.01 L315.82,492.03 L316.19,492.06 L316.56,492.08 L316.93,492.11 L317.30,492.13 L317.67,492.16 L318.04,492.18 L318.42,492.20 L318.79,492.23 L319.16,492.25 L319.53,492.27 L319.90,492.29 L320.27,492.32 L320.64,492.34 L321.01,492.36 L321.38,492.38 L321.75,492.40 L322.12,492.42 L322.49,492.44 L322.86,492.46 L323.23,492.48 L323.60,492.50 L323.97,492.52 L324.34,492.54 L324.71,492.56 L325.08,492.58 L325.45,492.60 L325.82,492.62 L326.19,492.63 L326.56,492.65 L326.93,492.67 L327.31,492.69 L327.68,492.70 L328.05,492.72 L328.42,492.74 L328.79,492.75 L329.16,492.77 L329.53,492.79 L329.90,492.80 L330.27,492.82 L330.64,492.84 L331.01,492.85 L331.38,492.87 L331.75,492.88 L332.12,492.90 L332.49,492.91 L332.86,492.93 L333.23,492.94 L333.60,492.96 L333.97,492.97 L334.34,492.99 L334.71,493.00 L335.08,493.01 L335.45,493.03 L335.82,493.04 L336.19,493.05 L336.57,493.07 L336.94,493.08 L337.31,493.09 L337.68,493.11 L338.05,493.12 L338.42,493.13 L338.79,493.15 L339.16,493.16 L339.53,493.17 L339.90,493.18 L340.27,493.20 L340.64,493.21 L341.01,493.22 L341.38,493.23 L341.75,493.25 L342.12,493.26 L342.49,493.27 L342.86,493.28 L343.23,493.29 L343.60,493.31 L343.97,493.32 L344.34,493.33 L344.71,493.34 L345.08,493.35 L345.46,493.36 L345.83,493.38 L346.20,493.39 L346.57,493.40 L346.94,493.41 L347.31,493.42 L347.68,493.43 L348.05,493.44 L348.42,493.46 L348.79,493.47 L349.16,493.48 L349.53,493.49 L349.90,493.50 L350.27,493.51 L350.64,493.52 L351.01,493.53 L351.38,493.55 L351.75,493.56 L352.12,493.57 L352.49,493.58 L352.86,493.59 L353.23,493.60 L353.60,493.61 L353.97,493.62 L354.35,493.63 L354.72,493.64 L355.09,493.65 L355.46,493.67 L355.83,493.68 L356.20,493.69 L356.57,493.70 L356.94,493.71 L357.31,493.72 L357.68,493.73 L358.05,493.74 L358.42,493.75 L358.79,493.76 L359.16,493.77 L359.53,493.78 L359.90,493.79 L360.27,493.80 L360.64,493.81 L361.01,493.82 L361.38,493.83 L361.75,493.84 L362.12,493.85 L362.49,493.86 L362.86,493.87 L363.23,493.88 L363.61,493.89 L363.98,493.90 L364.35,493.91 L364.72,493.92 L365.09,493.93 L365.46,493.94 L365.83,493.95 L366.20,493.96 L366.57,493.97 L366.94,493.98 L367.31,493.99 L367.68,494.00 L368.05,494.01 L368.42,494.02 L368.79,494.03 L369.16,494.04 L369.53,494.05 L369.90,494.06 L370.27,494.07 L370.64,494.07 L371.01,494.08 L371.38,494.09 L371.75,494.10 L372.12,494.11 L372.50,494.12 L372.87,494.13 L373.24,494.14 L373.61,494.15 L373.98,494.16 L374.35,494.16 L374.72,494.17 L375.09,494.18 L375.46,494.19 L375.83,494.20 L376.20,494.21 L376.57,494.22 L376.94,494.22 L377.31,494.23 L377.68,494.24 L378.05,494.25 L378.42,494.26 L378.79,494.27 L379.16,494.27 L379.53,494.28 L379.90,494.29 L380.27,494.30 L380.64,494.31 L381.01,494.31 L381.39,494.32 L381.76,494.33 L382.13,494.34 L382.50,494.35 L382.87,494.35 L383.24,494.36 L383.61,494.37 L383.98,494.38 L384.35,494.38 L384.72,494.39 L385.09,494.40 L385.46,494.41 L385.83,494.41 L386.20,494.42 L386.57,494.43 L386.94,494.43 L387.31,494.44 L387.68,494.45 L388.05,494.46 L388.42,494.46 L388.79,494.47 L389.16,494.48 L389.53,494.48 L389.90,494.49 L390.27,494.50 L390.65,494.50 L391.02,494.51 L391.39,494.52 L391.76,494.52 L392.13,494.53 L392.50,494.54 L392.87,494.54 L393.24,494.55 L393.61,494.55 L393.98,494.56 L394.35,494.57 L394.72,494.57 L395.09,494.58 L395.46,494.58 L395.83,494.59 L396.20,494.60 L396.57,494.60 L396.94,494.61 L397.31,494.61 L397.68,494.62 L398.05,494.62 L398.42,494.63 L398.79,494.63 L399.16,494.64 L399.54,494.64 L399.91,494.65 L400.28,494.66 L400.65,494.66 L401.02,494.67 L401.39,494.67 L401.76,494.68 L402.13,494.68 L402.50,494.68 L402.87,494.69 L403.24,494.69 L403.61,494.70 L403.98,494.70 L404.35,494.71 L404.72,494.71 L405.09,494.72 L405.46,494.72 L405.83,494.72 L406.20,494.73 L406.57,494.73 L406.94,494.74 L407.31,494.74 L407.68,494.74 L408.05,494.75 L408.43,494.75 L408.80,494.76 L409.17,494.76 L409.54,494.76 L409.91,494.77 L410.28,494.77 L410.65,494.77 L411.02,494.78 L411.39,494.78 L411.76,494.78 L412.13,494.79 L412.50,494.79 L412.87,494.79 L413.24,494.79 L413.61,494.80 L413.98,494.80 L414.35,494.80 L414.72,494.80 L415.09,494.80 L415.46,494.80 L415.83,494.80 L416.20,494.80 L416.57,494.80 L416.94,494.80 L417.32,494.80 L417.69,494.80 L418.06,494.80 L418.43,494.80 L418.80,494.80 L419.17,494.80 L419.54,494.80 L419.91,494.80 L420.28,494.80 L420.65,494.80 L421.02,494.80 L421.39,494.80 L421.76,494.80 L422.13,494.80 L422.50,494.80 L422.87,494.80 L423.24,494.80 L423.61,494.80 L423.98,494.80 L424.35,494.80 L424.72,494.80 L425.09,494.80 L425.46,494.80 L425.83,494.80 L426.20,494.80 L426.58,494.80 L426.95,494.80 L427.32,494.80 L427.69,494.80 L428.06,494.80 L428.43,494.80 L428.80,494.80 L429.17,494.80 L429.54,494.80 L429.91,494.80 L430.28,494.80 L430.65,494.80 L431.02,494.80 L431.39,494.80 L431.76,494.80 L432.13,494.80 L432.50,494.80 L432.87,494.80 L433.24,494.80 L433.61,494.80 L433.98,494.80 L434.35,494.80 L434.72,494.80 L435.09,494.80 L435.47,494.80 L435.84,494.80 L436.21,494.80 L436.58,494.80 L436.95,494.80 L437.32,494.80 L437.69,494.80 L438.06,494.80 L438.43,494.80 L438.80,494.80 L439.17,494.80 L439.54,494.80 L439.91,494.80 L440.28,494.80 L440.65,494.80 L441.02,494.80 L441.39,494.80 L441.76,494.80 L442.13,494.80 L442.50,494.80 L442.87,494.80 L443.24,494.80 L443.61,494.80 L443.98,494.80 L444.36,494.80 L444.73,494.80 L445.10,494.80 L445.47,494.80 L445.84,494.80 L446.21,494.80 L446.58,494.80 L446.95,494.80 L447.32,494.80 L447.69,494.80 L448.06,494.80 L448.43,494.80 L448.80,494.80"/>
<path stroke="#00ff00" stroke-dasharray="7.71 3.86" stroke-dashoffset="3.18" d="M781.80,150.67 L781.43,151.78 L781.06,152.89 L780.69,154.00 L780.32,155.10 L779.95,156.20 L779.58,157.30 L779.21,158.40 L778.84,159.49 L778.47,160.59 L778.10,161.68 L777.73,162.77 L777.36,163.85 L776.98,164.94 L776.61,166.02 L776.24,167.10 L775.87,168.18 L775.50,169.26 L775.13,170.33 L774.76,171.40 L774.39,172.47 L774.02,173.54 L773.65,174.61 L773.28,175.68 L772.91,176.74 L772.54,177.80 L772.17,178.86 L771.80,179.92 L771.43,180.98 L771.06,182.04 L770.69,183.09 L770.32,184.15 L769.95,185.20 L769.58,186.25 L769.21,187.30 L768.84,188.35 L768.47,189.39 L768.09,190.44 L767.72,191.48 L767.35,192.53 L766.98,193.57 L766.61,194.61 L766.24,195.65 L765.87,196.69 L765.50,197.73 L765.13,198.76 L764.76,199.80 L764.39,200.83 L764.02,201.87 L763.65,202.90 L763.28,203.93 L762.91,204.96 L762.54,205.99 L762.17,207.02 L761.80,208.05 L761.43,209.08 L761.06,210.11 L760.69,211.14 L760.32,212.16 L759.95,213.19 L759.58,214.21 L759.20,215.24 L758.83,216.26 L758.46,217.28 L758.09,218.31 L757.72,219.33 L757.35,220.35 L756.98,221.37 L756.61,222.39 L756.24,223.41 L755.87,224.43 L755.50,225.45 L755.13,226.47 L754.76,227.49 L754.39,228.51 L754.02,229.53 L753.65,230.55 L753.28,231.57 L752.91,232.58 L752.54,233.60 L752.17,234.62 L751.80,235.64 L751.43,236.66 L751.06,237.67 L750.69,238.69 L750.32,239.71 L749.94,240.73 L749.57,241.74 L749.20,242.76 L748.83,243.78 L748.46,244.80 L748.09,245.81 L747.72,246.83 L747.35,247.85 L746.98,248.87 L746.61,249.89 L746.24,250.90 L745.87,251.92 L745.50,252.94 L745.13,253.96 L744.76,254.98 L744.39,256.00 L744.02,257.02 L743.65,258.04 L743.28,259.07 L742.91,260.09 L742.54,261.11 L742.17,262.13 L741.80,263.16 L741.43,264.18 L741.05,265.21 L740.68,266.23 L740.31,267.26 L739.94,268.28 L739.57,269.31 L739.20,270.34 L738.83,271.37 L738.46,272.39 L738.09,273.42 L737.72,274.46 L737.35,275.49 L736.98,276.52 L736.61,277.55 L736.24,278.59 L735.87,279.62 L735.50,280.66 L735.13,281.69 L734.76,282.73 L734.39,283.77 L734.02,284.81 L733.65,285.85 L733.28,286.90 L732.91,287.94 L732.54,288.98 L732.16,290.03 L731.79,291.08 L731.42,292.12 L731.05,293.17 L730.68,294.23 L730.31,295.28 L729.94,296.33 L729.57,297.39 L729.20,298.44 L728.83,299.50 L728.46,300.56 L728.09,301.62 L727.72,302.68 L727.35,303.75 L726.98,304.81 L726.61,305.87 L726.24,306.94 L725.87,308.01 L725.50,309.07 L725.13,310.14 L724.76,311.21 L724.39,312.28 L724.02,313.35 L723.65,314.43 L723.27,315.50 L722.90,316.57 L722.53,317.64 L722.16,318.72 L721.79,319.79 L721.42,320.87 L721.05,321.94 L720.68,323.01 L720.31,324.09 L719.94,325.17 L719.57,326.24 L719.20,327.32 L718.83,328.39 L718.46,329.47 L718.09,330.54 L717.72,331.62 L717.35,332.69 L716.98,333.76 L716.61,334.84 L716.24,335.91 L715.87,336.99 L715.50,338.06 L715.13,339.13 L714.76,340.20 L714.39,341.27 L714.01,342.34 L713.64,343.41 L713.27,344.48 L712.90,345.55 L712.53,346.61 L712.16,347.68 L711.79,348.74 L711.42,349.81 L711.05,350.87 L710.68,351.93 L710.31,352.99 L709.94,354.05 L709.57,355.11 L709.20,356.16 L708.83,357.22 L708.46,358.27 L708.09,359.32 L707.72,360.37 L707.35,361.42 L706.98,362.47 L706.61,363.51 L706.24,364.56 L705.87,365.60 L705.50,366.64 L705.12,367.68 L704.75,368.71 L704.38,369.75 L704.01,370.78 L703.64,371.81 L703.27,372.84 L702.90,373.86 L702.53,374.89 L702.16,375.91 L701.79,376.93 L701.42,377.95 L701.05,378.97 L700.68,379.98 L700.31,380.99 L699.94,382.00 L699.57,383.01 L699.20,384.01 L698.83,385.01 L698.46,386.01 L698.09,387.01 L697.72,388.01 L697.35,389.00 L696.98,389.99 L696.61,390.98 L696.23,391.96 L695.86,392.94 L695.49,393.92 L695.12,394.90 L694.75,395.87 L694.38,396.85 L694.01,397.82 L693.64,398.78 L693.27,399.75 L692.90,400.71 L692.53,401.67 L692.16,402.62 L691.79,403.58 L691.42,404.53 L691.05,405.47 L690.68,406.42 L690.31,407.36 L689.94,408.30 L689.57,409.24 L689.20,410.17 L688.83,411.10 L688.46,412.03 L688.09,412.96 L687.72,413.88 L687.35,414.80 L686.97,415.72 L686.60,416.63 L686.23,417.54 L685.86,418.45 L685.49,419.36 L685.12,420.26 L684.75,421.16 L684.38,422.06 L684.01,422.95 L683.64,423.84 L683.27,424.73 L682.90,425.62 L682.53,426.50 L682.16,427.38 L681.79,428.26 L681.42,429.13 L681.05,430.00 L680.68,430.87 L680.31,431.74 L679.94,432.60 L679.57,433.46 L679.20,434.32 L678.83,435.17 L678.46,436.02 L678.08,436.87 L677.71,437.72 L677.34,438.56 L676.97,439.40 L676.60,440.23 L676.23,441.06 L675.86,441.88 L675.49,442.70 L675.12,443.51 L674.75,444.31 L674.38,445.11 L674.01,445.89 L673.64,446.67 L673.27,447.44 L672.90,448.20 L672.53,448.95 L672.16,449.69 L671.79,450.42 L671.42,451.13 L671.05,451.84 L670.68,452.54 L670.31,453.23 L669.94,453.90 L669.57,454.57 L669.19,455.22 L668.82,455.86 L668.45,456.49 L668.08,457.11 L667.71,457.72 L667.34,458.32 L666.97,458.91 L666.60,459.49 L666.23,460.06 L665.86,460.61 L665.49,461.16 L665.12,461.69 L664.75,462.22 L664.38,462.74 L664.01,463.24 L663.64,463.74 L663.27,464.22 L662.90,464.70 L662.53,465.17 L662.16,465.63 L661.79,466.08 L661.42,466.52 L661.05,466.95 L660.68,467.37 L660.31,467.79 L659.93,468.19 L659.56,468.59 L659.19,468.98 L658.82,469.37 L658.45,469.74 L658.08,470.11 L657.71,470.47 L657.34,470.82 L656.97,471.16 L656.60,471.50 L656.23,471.83 L655.86,472.16 L655.49,472.47 L655.12,472.78 L654.75,473.09 L654.38,473.39 L654.01,473.68 L653.64,473.96 L653.27,474.24 L652.90,474.52 L652.53,474.78 L652.16,475.05 L651.79,475.30 L651.42,475.56 L651.04,475.80 L650.67,476.05 L650.30,476.28 L649.93,476.52 L649.56,476.75 L649.19,476.97 L648.82,477.19 L648.45,477.41 L648.08,477.62 L647.71,477.83 L647.34,478.04 L646.97,478.24 L646.60,478.44 L646.23,478.64 L645.86,478.83 L645.49,479.02 L645.12,479.21 L644.75,479.39 L644.38,479.57 L644.01,479.75 L643.64,479.92 L643.27,480.10 L642.90,480.27 L642.53,480.43 L642.15,480.60 L641.78,480.76 L641.41,480.92 L641.04,481.07 L640.67,481.23 L640.30,481.38 L639.93,481.53 L639.56,481.68 L639.19,481.82 L638.82,481.97 L638.45,482.11 L638.08,482.25 L637.71,482.38 L637.34,482.52 L636.97,482.65 L636.60,482.78 L636.23,482.91 L635.86,483.04 L635.49,483.17 L635.12,483.29 L634.75,483.41 L634.38,483.53 L634.01,483.65 L633.64,483.77 L633.26,483.88 L632.89,484.00 L632.52,484.11 L632.15,484.22 L631.78,484.33 L631.41,484.44 L631.04,484.54 L630.67,484.65 L630.30,484.75 L629.93,484.85 L629.56,484.95 L629.19,485.05 L628.82,485.15 L628.45,485.24 L628.08,485.34 L627.71,485.43 L627.34,485.53 L626.97,485.62 L626.60,485.71 L626.23,485.80 L625.86,485.89 L625.49,485.97 L625.12,486.06 L624.75,486.15 L624.38,486.23 L624.00,486.31 L623.63,486.40 L623.26,486.48 L622.89,486.56 L622.52,486.64 L622.15,486.72 L621.78,486.80 L621.41,486.87 L621.04,486.95 L620.67,487.03 L620.30,487.10 L619.93,487.18 L619.56,487.25 L619.19,487.33 L618.82,487.40 L618.45,487.47 L618.08,487.55 L617.71,487.62 L617.34,487.69 L616.97,487.76 L616.60,487.83 L616.23,487.90 L615.86,487.96 L615.49,488.03 L615.11,488.10 L614.74,488.16 L614.37,488.23 L614.00,488.29 L613.63,488.36 L613.26,488.42 L612.89,488.49 L612.52,488.55 L612.15,488.61 L611.78,488.67 L611.41,488.73 L611.04,488.79 L610.67,488.85 L610.30,488.91 L609.93,488.97 L609.56,489.03 L609.19,489.09 L608.82,489.15 L608.45,489.20 L608.08,489.26 L607.71,489.31 L607.34,489.37 L606.97,489.42 L606.60,489.48 L606.22,489.53 L605.85,489.58 L605.48,489.63 L605.11,489.69 L604.74,489.74 L604.37,489.79 L604.00,489.84 L603.63,489.89 L603.26,489.94 L602.89,489.98 L602.52,490.03 L602.15,490.08 L601.78,490.13 L601.41,490.17 L601.04,490.22 L600.67,490.27 L600.30,490.31 L599.93,490.36 L599.56,490.40 L599.19,490.44 L598.82,490.49 L598.45,490.53 L598.08,490.57 L597.71,490.61 L597.34,490.66 L596.96,490.70 L596.59,490.74 L596.22,490.78 L595.85,490.82 L595.48,490.86 L595.11,490.90 L594.74,490.93 L594.37,490.97 L594.00,491.01 L593.63,491.05 L593.26,491.08 L592.89,491.12 L592.52,491.15 L592.15,491.19 L591.78,491.23 L591.41,491.26 L591.04,491.29 L590.67,491.33 L590.30,491.36 L589.93,491.39 L589.56,491.43 L589.19,491.46 L588.82,491.49 L588.45,491.52 L588.07,491.55 L587.70,491.59 L587.33,491.62 L586.96,491.65 L586.59,491.68 L586.22,491.71 L585.85,491.73 L585.48,491.76 L585.11,491.79 L584.74,491.82 L584.37,491.85 L584.00,491.88 L583.63,491.90 L583.26,491.93 L582.89,491.96 L582.52,491.98 L582.15,492.01 L581.78,492.03 L581.41,492.06 L581.04,492.08 L580.67,492.11 L580.30,492.13 L579.93,492.16 L579.56,492.18 L579.18,492.20 L578.81,492.23 L578.44,492.25 L578.07,492.27 L577.70,492.29 L577.33,492.32 L576.96,492.34 L576.59,492.36 L576.22,492.38 L575.85,492.40 L575.48,492.42 L575.11,492.44 L574.74,492.46 L574.37,492.48 L574.00,492.50 L573.63,492.52 L573.26,492.54 L572.89,492.56 L572.52,492.58 L572.15,492.60 L571.78,492.62 L571.41,492.63 L571.04,492.65 L570.67,492.67 L570.29,492.69 L569.92,492.70 L569.55,492.72 L569.18,492.74 L568.81,492.75 L568.44,492.77 L568.07,492.79 L567.70,492.80 L567.33,492.82 L566.96,492.84 L566.59,492.85 L566.22,492.87 L565.85,492.88 L565.48,492.90 L565.11,492.91 L564.74,492.93 L564.37,492.94 L564.00,492.96 L563.63,492.97 L563.26,492.99 L562.89,493.00 L562.52,493.01 L562.15,493.03 L561.78,493.04 L561.41,493.05 L561.03,493.07 L560.66,493.08 L560.29,493.09 L559.92,493.11 L559.55,493.12 L559.18,493.13 L558.81,493.15 L558.44,493.16 L558.07,493.17 L557.70,493.18 L557.33,493.20 L556.96,493.21 L556.59,493.22 L556.22,493.23 L555.85,493.25 L555.48,493.26 L555.11,493.27 L554.74,493.28 L554.37,493.29 L554.00,493.31 L553.63,493.32 L553.26,493.33 L552.89,493.34 L552.52,493.35 L552.14,493.36 L551.77,493.38 L551.40,493.39 L551.03,493.40 L550.66,493.41 L550.29,493.42 L549.92,493.43 L549.55,493.44 L549.18,493.46 L548.81,493.47 L548.44,493.48 L548.07,493.49 L547.70,493.50 L547.33,493.51 L546.96,493.52 L546.59,493.53 L546.22,493.55 L545.85,493.56 L545.48,493.57 L545.11,493.58 L544.74,493.59 L544.37,493.60 L544.00,493.61 L543.63,493.62 L543.25,493.63 L542.88,493.64 L542.51,493.65 L542.14,493.67 L541.77,493.68 L541.40,493.69 L541.03,493.70 L540.66,493.71 L540.29,493.72 L539.92,493.73 L539.55,493.74 L539.18,493.75 L538.81,493.76 L538.44,493.77 L538.07,493.78 L537.70,493.79 L537.33,493.80 L536.96,493.81 L536.59,493.82 L536.22,493.83 L535.85,493.84 L535.48,493.85 L535.11,493.86 L534.74,493.87 L534.37,493.88 L533.99,493.89 L533.62,493.90 L533.25,493.91 L532.88,493.92 L532.51,493.93 L532.14,493.94 L531.77,493.95 L531.40,493.96 L531.03,493.97 L530.66,493.98 L530.29,493.99 L529.92,494.00 L529.55,494.01 L529.18,494.02 L528.81,494.03 L528.44,494.04 L528.07,494.05 L527.70,494.06 L527.33,494.07 L526.96,494.07 L526.59,494.08 L526.22,494.09 L525.85,494.10 L525.48,494.11 L525.10,494.12 L524.73,494.13 L524.36,494.14 L523.99,494.15 L523.62,494.16 L523.25,494.16 L522.88,494.17 L522.51,494.18 L522.14,494.19 L521.77,494.20 L521.40,494.21 L521.03,494.22 L520.66,494.22 L520.29,494.23 L519.92,494.24 L519.55,494.25 L519.18,494.26 L518.81,494.27 L518.44,494.27 L518.07,494.28 L517.70,494.29 L517.33,494.30 L516.96,494.31 L516.59,494.31 L516.21,494.32 L515.84,494.33 L515.47,494.34 L515.10,494.35 L514.73,494.35 L514.36,494.36 L513.99,494.37 L513.62,494.38 L513.25,494.38 L512.88,494.39 L512.51,494.40 L512.14,494.41 L511.77,494.41 L511.40,494.42 L511.03,494.43 L510.66,494.43 L510.29,494.44 L509.92,494.45 L509.55,494.46 L509.18,494.46 L508.81,494.47 L508.44,494.48 L508.07,494.48 L507.70,494.49 L507.33,494.50 L506.95,494.50 L506.58,494.51 L506.21,494.52 L505.84,494.52 L505.47,494.53 L505.10,494.54 L504.73,494.54 L504.36,494.55 L503.99,494.55 L503.62,494.56 L503.25,494.57 L502.88,494.57 L502.51,494.58 L502.14,494.58 L501.77,494.59 L501.40,494.60 L501.03,494.60 L500.66,494.61 L500.29,494.61 L499.92,494.62 L499.55,494.62 L499.18,494.63 L498.81,494.63 L498.44,494.64 L498.06,494.64 L497.69,494.65 L497.32,494.66 L496.95,494.66 L496.58,494.67 L496.21,494.67 L495.84,494.68 L495.47,494.68 L495.10,494.68 L494.73,494.69 L494.36,494.69 L493.99,494.70 L493.62,494.70 L493.25,494.71 L492.88,494.71 L492.51,494.72 L492.14,494.72 L491.77,494.72 L491.40,494.73 L491.03,494.73 L490.66,494.74 L490.29,494.74 L489.92,494.74 L489.55,494.75 L489.17,494.75 L488.80,494.76 L488.43,494.76 L488.06,494.76 L487.69,494.77 L487.32,494.77 L486.95,494.77 L486.58,494.78 L486.21,494.78 L485.84,494.78 L485.47,494.79 L485.10,494.79 L484.73,494.79 L484.36,494.79 L483.99,494.80 L483.62,494.80 L483.25,494.80 L482.88,494.80 L482.51,494.80 L482.14,494.80 L481.77,494.80 L481.40,494.80 L481.03,494.80 L480.66,494.80 L480.28,494.80 L479.91,494.80 L479.54,494.80 L479.17,494.80 L478.80,494.80 L478.43,494.80 L478.06,494.80 L477.69,494.80 L477.32,494.80 L476.95,494.80 L476.58,494.80 L476.21,494.80 L475.84,494.80 L475.47,494.80 L475.10,494.80 L474.73,494.80 L474.36,494.80 L473.99,494.80 L473.62,494.80 L473.25,494.80 L472.88,494.80 L472.51,494.80 L472.14,494.80 L471.77,494.80 L471.40,494.80 L471.02,494.80 L470.65,494.80 L470.28,494.80 L469.91,494.80 L469.54,494.80 L469.17,494.80 L468.80,494.80 L468.43,494.80 L468.06,494.80 L467.69,494.80 L467.32,494.80 L466.95,494.80 L466.58,494.80 L466.21,494.80 L465.84,494.80 L465.47,494.80 L465.10,494.80 L464.73,494.80 L464.36,494.80 L463.99,494.80 L463.62,494.80 L463.25,494.80 L462.88,494.80 L462.51,494.80 L462.13,494.80 L461.76,494.80 L461.39,494.80 L461.02,494.80 L460.65,494.80 L460.28,494.80 L459.91,494.80 L459.54,494.80 L459.17,494.80 L458.80,494.80 L458.43,494.80 L458.06,494.80 L457.69,494.80 L457.32,494.80 L456.95,494.80 L456.58,494.80 L456.21,494.80 L455.84,494.80 L455.47,494.80 L455.10,494.80 L454.73,494.80 L454.36,494.80 L453.99,494.80 L453.62,494.80 L453.24,494.80 L452.87,494.80 L452.50,494.80 L452.13,494.80 L451.76,494.80 L451.39,494.80 L451.02,494.80 L450.65,494.80 L450.28,494.80 L449.91,494.80 L449.54,494.80 L449.17,494.80 L448.80,494.80"/>
<path stroke="#0000ff" stroke-dasharray="3.86 5.78" stroke-dashoffset="0.00" d="M115.80,132.69 L116.17,134.15 L116.54,135.61 L116.91,137.08 L117.28,138.56 L117.65,140.03 L118.02,141.51 L118.39,142.99 L118.76,144.47 L119.13,145.96 L119.50,147.45 L119.87,148.94 L120.24,150.43 L120.62,151.93 L120.99,153.43 L121.36,154.93 L121.73,156.43 L122.10,157.94 L122.47,159.45 L122.84,160.97 L123.21,162.48 L123.58,164.00 L123.95,165.52 L124.32,167.04 L124.69,168.57 L125.06,170.10 L125.43,171.63 L125.80,173.16 L126.17,174.70 L126.54,176.23 L126.91,177.77 L127.28,179.32 L127.65,180.86 L128.02,182.41 L128.39,183.96 L128.76,185.51 L129.13,187.07 L129.51,188.62 L129.88,190.18 L130.25,191.74 L130.62,193.30 L130.99,194.87 L131.36,196.44 L131.73,198.01 L132.10,199.58 L132.47,201.15 L132.84,202.73 L133.21,204.30 L133.58,205.88 L133.95,207.46 L134.32,209.05 L134.69,210.63 L135.06,212.22 L135.43,213.80 L135.80,215.39 L136.17,216.99 L136.54,218.58 L136.91,220.17 L137.28,221.77 L137.65,223.37 L138.02,224.97 L138.40,226.57 L138.77,228.17 L139.14,229.77 L139.51,231.38 L139.88,232.99 L140.25,234.59 L140.62,236.20 L140.99,237.81 L141.36,239.42 L141.73,241.04 L142.10,242.65 L142.47,244.27 L142.84,245.88 L143.21,247.50 L143.58,249.12 L143.95,250.73 L144.32,252.35 L144.69,253.97 L145.06,255.60 L145.43,257.22 L145.80,258.84 L146.17,260.46 L146.54,262.09 L146.91,263.71 L147.28,265.34 L147.66,266.96 L148.03,268.59 L148.40,270.22 L148.77,271.84 L149.14,273.47 L149.51,275.10 L149.88,276.72 L150.25,278.35 L150.62,279.98 L150.99,281.61 L151.36,283.24 L151.73,284.87 L152.10,286.50 L152.47,288.12 L152.84,289.75 L153.21,291.38 L153.58,293.01 L153.95,294.64 L154.32,296.27 L154.69,297.89 L155.06,299.52 L155.43,301.15 L155.80,302.77 L156.17,304.40 L156.55,306.03 L156.92,307.65 L157.29,309.28 L157.66,310.90 L158.03,312.53 L158.40,314.15 L158.77,315.78 L159.14,317.41 L159.51,319.03 L159.88,320.66 L160.25,322.29 L160.62,323.92 L160.99,325.55 L161.36,327.18 L161.73,328.82 L162.10,330.45 L162.47,332.09 L162.84,333.72 L163.21,335.36 L163.58,337.00 L163.95,338.65 L164.32,340.29 L164.69,341.94 L165.06,343.59 L165.44,345.24 L165.81,346.89 L166.18,348.55 L166.55,350.21 L166.92,351.87 L167.29,353.54 L167.66,355.21 L168.03,356.88 L168.40,358.55 L168.77,360.23 L169.14,361.92 L169.51,363.60 L169.88,365.30 L170.25,366.99 L170.62,368.69 L170.99,370.40 L171.36,372.10 L171.73,373.82 L172.10,375.54 L172.47,377.26 L172.84,378.99 L173.21,380.72 L173.58,382.46 L173.95,384.20 L174.33,385.93 L174.70,387.66 L175.07,389.38 L175.44,391.10 L175.81,392.80 L176.18,394.50 L176.55,396.18 L176.92,397.85 L177.29,399.50 L177.66,401.13 L178.03,402.74 L178.40,404.34 L178.77,405.91 L179.14,407.47 L179.51,409.00 L179.88,410.52 L180.25,412.01 L180.62,413.47 L180.99,414.92 L181.36,416.34 L181.73,417.74 L182.10,419.12 L182.47,420.48 L182.84,421.81 L183.21,423.12 L183.59,424.41 L183.96,425.68 L184.33,426.93 L184.70,428.16 L185.07,429.37 L185.44,430.55 L185.81,431.72 L186.18,432.87 L186.55,434.00 L186.92,435.12 L187.29,436.21 L187.66,437.29 L188.03,438.35 L188.40,439.40 L188.77,440.42 L189.14,441.44 L189.51,442.43 L189.88,443.41 L190.25,444.38 L190.62,445.33 L190.99,446.27 L191.36,447.20 L191.73,448.11 L192.10,449.01 L192.48,449.89 L192.85,450.77 L193.22,451.63 L193.59,452.48 L193.96,453.32 L194.33,454.14 L194.70,454.95 L195.07,455.75 L195.44,456.53 L195.81,457.30 L196.18,458.05 L196.55,458.79 L196.92,459.52 L197.29,460.22 L197.66,460.92 L198.03,461.60 L198.40,462.26 L198.77,462.91 L199.14,463.54 L199.51,464.16 L199.88,464.77 L200.25,465.36 L200.62,465.93 L200.99,466.50 L201.37,467.05 L201.74,467.59 L202.11,468.11 L202.48,468.62 L202.85,469.12 L203.22,469.61 L203.59,470.08 L203.96,470.54 L204.33,470.99 L204.70,471.43 L205.07,471.86 L205.44,472.28 L205.81,472.69 L206.18,473.09 L206.55,473.47 L206.92,473.85 L207.29,474.22 L207.66,474.58 L208.03,474.93 L208.40,475.27 L208.77,475.60 L209.14,475.92 L209.51,476.24 L209.88,476.54 L210.25,476.84 L210.63,477.13 L211.00,477.42 L211.37,477.70 L211.74,477.97 L212.11,478.23 L212.48,478.49 L212.85,478.75 L213.22,479.00 L213.59,479.24 L213.96,479.48 L214.33,479.71 L214.70,479.94 L215.07,480.16 L215.44,480.38 L215.81,480.60 L216.18,480.81 L216.55,481.01 L216.92,481.21 L217.29,481.41 L217.66,481.61 L218.03,481.80 L218.40,481.99 L218.77,482.17 L219.14,482.35 L219.52,482.53 L219.89,482.70 L220.26,482.87 L220.63,483.04 L221.00,483.20 L221.37,483.36 L221.74,483.52 L222.11,483.68 L222.48,483.83 L222.85,483.98 L223.22,484.13 L223.59,484.27 L223.96,484.41 L224.33,484.55 L224.70,484.69 L225.07,484.83 L225.44,484.96 L225.81,485.09 L226.18,485.22 L226.55,485.34 L226.92,485.46 L227.29,485.58 L227.66,485.70 L228.03,485.82 L228.41,485.93 L228.78,486.05 L229.15,486.16 L229.52,486.27 L229.89,486.37 L230.26,486.48 L230.63,486.58 L231.00,486.68 L231.37,486.78 L231.74,486.88 L232.11,486.97 L232.48,487.07 L232.85,487.16 L233.22,487.25 L233.59,487.34 L233.96,487.42 L234.33,487.51 L234.70,487.59 L235.07,487.68 L235.44,487.76 L235.81,487.84 L236.18,487.92 L236.55,487.99 L236.92,488.07 L237.29,488.14 L237.67,488.21 L238.04,488.29 L238.41,488.36 L238.78,488.42 L239.15,488.49 L239.52,488.56 L239.89,488.62 L240.26,488.69 L240.63,488.75 L241.00,488.81 L241.37,488.87 L241.74,488.93 L242.11,488.99 L242.48,489.05 L242.85,489.10 L243.22,489.16 L243.59,489.21 L243.96,489.27 L244.33,489.32 L244.70,489.37 L245.07,489.42 L245.44,489.47 L245.81,489.52 L246.18,489.57 L246.56,489.62 L246.93,489.66 L247.30,489.71 L247.67,489.75 L248.04,489.80 L248.41,489.84 L248.78,489.88 L249.15,489.93 L249.52,489.97 L249.89,490.01 L250.26,490.05 L250.63,490.09 L251.00,490.13 L251.37,490.17 L251.74,490.21 L252.11,490.24 L252.48,490.28 L252.85,490.32 L253.22,490.35 L253.59,490.39 L253.96,490.42 L254.33,490.46 L254.70,490.49 L255.07,490.53 L255.45,490.56 L255.82,490.60 L256.19,490.63 L256.56,490.66 L256.93,490.69 L257.30,490.73 L257.67,490.76 L258.04,490.79 L258.41,490.82 L258.78,490.85 L259.15,490.88 L259.52,490.92 L259.89,490.95 L260.26,490.98 L260.63,491.01 L261.00,491.04 L261.37,491.07 L261.74,491.10 L262.11,491.13 L262.48,491.16 L262.85,491.19 L263.22,491.22 L263.59,491.25 L263.96,491.28 L264.34,491.31 L264.71,491.34 L265.08,491.37 L265.45,491.40 L265.82,491.43 L266.19,491.45 L266.56,491.48 L266.93,491.51 L267.30,491.54 L267.67,491.57 L268.04,491.60 L268.41,491.62 L268.78,491.65 L269.15,491.68 L269.52,491.71 L269.89,491.73 L270.26,491.76 L270.63,491.79 L271.00,491.81 L271.37,491.84 L271.74,491.87 L272.11,491.89 L272.48,491.92 L272.85,491.95 L273.22,491.97 L273.60,492.00 L273.97,492.02 L274.34,492.05 L274.71,492.07 L275.08,492.10 L275.45,492.13 L275.82,492.15 L276.19,492.18 L276.56,492.20 L276.93,492.22 L277.30,492.25 L277.67,492.27 L278.04,492.30 L278.41,492.32 L278.78,492.35 L279.15,492.37 L279.52,492.39 L279.89,492.42 L280.26,492.44 L280.63,492.46 L281.00,492.49 L281.37,492.51 L281.74,492.53 L282.11,492.56 L282.49,492.58 L282.86,492.60 L283.23,492.62 L283.60,492.65 L283.97,492.67 L284.34,492.69 L284.71,492.71 L285.08,492.73 L285.45,492.75 L285.82,492.78 L286.19,492.80 L286.56,492.82 L286.93,492.84 L287.30,492.86 L287.67,492.88 L288.04,492.90 L288.41,492.92 L288.78,492.94 L289.15,492.96 L289.52,492.98 L289.89,493.00 L290.26,493.02 L290.63,493.04 L291.00,493.06 L291.38,493.08 L291.75,493.10 L292.12,493.12 L292.49,493.14 L292.86,493.16 L293.23,493.18 L293.60,493.20 L293.97,493.21 L294.34,493.23 L294.71,493.25 L295.08,493.27 L295.45,493.29 L295.82,493.31 L296.19,493.32 L296.56,493.34 L296.93,493.36 L297.30,493.38 L297.67,493.39 L298.04,493.41 L298.41,493.43 L298.78,493.45 L299.15,493.46 L299.52,493.48 L299.89,493.50 L300.26,493.51 L300.64,493.53 L301.01,493.54 L301.38,493.56 L301.75,493.58 L302.12,493.59 L302.49,493.61 L302.86,493.62 L303.23,493.64 L303.60,493.65 L303.97,493.67 L304.34,493.69 L304.71,493.70 L305.08,493.72 L305.45,493.73 L305.82,493.74 L306.19,493.76 L306.56,493.77 L306.93,493.79 L307.30,493.80 L307.67,493.82 L308.04,493.83 L308.41,493.84 L308.78,493.86 L309.15,493.87 L309.53,493.89 L309.90,493.90 L310.27,493.91 L310.64,493.93 L311.01,493.94 L311.38,493.95 L311.75,493.96 L312.12,493.98 L312.49,493.99 L312.86,494.00 L313.23,494.01 L313.60,494.03 L313.97,494.04 L314.34,494.05 L314.71,494.06 L315.08,494.07 L315.45,494.09 L315.82,494.10 L316.19,494.11 L316.56,494.12 L316.93,494.13 L317.30,494.14 L317.67,494.15 L318.04,494.17 L318.42,494.18 L318.79,494.19 L319.16,494.20 L319.53,494.21 L319.90,494.22 L320.27,494.23 L320.64,494.24 L321.01,494.25 L321.38,494.26 L321.75,494.27 L322.12,494.28 L322.49,494.29 L322.86,494.30 L323.23,494.31 L323.60,494.32 L323.97,494.33 L324.34,494.34 L324.71,494.34 L325.08,494.35 L325.45,494.36 L325.82,494.37 L326.19,494.38 L326.56,494.39 L326.93,494.40 L327.31,494.40 L327.68,494.41 L328.05,494.42 L328.42,494.43 L328.79,494.44 L329.16,494.44 L329.53,494.45 L329.90,494.46 L330.27,494.47 L330.64,494.48 L331.01,494.48 L331.38,494.49 L331.75,494.50 L332.12,494.50 L332.49,494.51 L332.86,494.52 L333.23,494.53 L333.60,494.53 L333.97,494.54 L334.34,494.54 L334.71,494.55 L335.08,494.56 L335.45,494.56 L335.82,494.57 L336.19,494.58 L336.57,494.58 L336.94,494.59 L337.31,494.59 L337.68,494.60 L338.05,494.61 L338.42,494.61 L338.79,494.62 L339.16,494.62 L339.53,494.63 L339.90,494.63 L340.27,494.64 L340.64,494.64 L341.01,494.65 L341.38,494.65 L341.75,494.66 L342.12,494.66 L342.49,494.67 L342.86,494.67 L343.23,494.68 L343.60,494.68 L343.97,494.69 L344.34,494.69 L344.71,494.69 L345.08,494.70 L345.46,494.70 L345.83,494.71 L346.20,494.71 L346.57,494.71 L346.94,494.72 L347.31,494.72 L347.68,494.72 L348.05,494.73 L348.42,494.73 L348.79,494.74 L349.16,494.74 L349.53,494.74 L349.90,494.75 L350.27,494.75 L350.64,494.75 L351.01,494.75 L351.38,494.76 L351.75,494.76 L352.12,494.76 L352.49,494.77 L352.86,494.77 L353.23,494.77 L353.60,494.77 L353.97,494.78 L354.35,494.78 L354.72,494.78 L355.09,494.78 L355.46,494.79 L355.83,494.79 L356.20,494.79 L356.57,494.79 L356.94,494.79 L357.31,494.80 L357.68,494.80 L358.05,494.80 L358.42,494.80 L358.79,494.80 L359.16,494.80 L359.53,494.80 L359.90,494.80 L360.27,494.80 L360.64,494.80 L361.01,494.80 L361.38,494.80 L361.75,494.80 L362.12,494.80 L362.49,494.80 L362.86,494.80 L363.23,494.80 L363.61,494.80 L363.98,494.80 L364.35,494.80 L364.72,494.80 L365.09,494.80 L365.46,494.80 L365.83,494.80 L366.20,494.80 L366.57,494.80 L366.94,494.80 L367.31,494.80 L367.68,494.80 L368.05,494.80 L368.42,494.80 L368.79,494.80 L369.16,494.80 L369.53,494.80 L369.90,494.80 L370.27,494.80 L370.64,494.80 L371.01,494.80 L371.38,494.80 L371.75,494.80 L372.12,494.80 L372.50,494.80 L372.87,494.80 L373.24,494.80 L373.61,494.80 L373.98,494.80 L374.35,494.80 L374.72,494.80 L375.09,494.80 L375.46,494.80 L375.83,494.80 L376.20,494.80 L376.57,494.80 L376.94,494.80 L377.31,494.80 L377.68,494.80 L378.05,494.80 L378.42,494.80 L378.79,494.80 L379.16,494.80 L379.53,494.80 L379.90,494.80 L380.27,494.80 L380.64,494.80 L381.01,494.80 L381.39,494.80 L381.76,494.80 L382.13,494.80 L382.50,494.80 L382.87,494.80 L383.24,494.80 L383.61,494.80 L383.98,494.80 L384.35,494.80 L384.72,494.80 L385.09,494.80 L385.46,494.80 L385.83,494.80 L386.20,494.80 L386.57,494.80 L386.94,494.80 L387.31,494.80 L387.68,494.80 L388.05,494.80 L388.42,494.80 L388.79,494.80 L389.16,494.80 L389.53,494.80 L389.90,494.80 L390.27,494.80 L390.65,494.80 L391.02,494.80 L391.39,494.80 L391.76,494.80 L392.13,494.80 L392.50,494.80 L392.87,494.80 L393.24,494.80 L393.61,494.80 L393.98,494.80 L394.35,494.80 L394.72,494.80 L395.09,494.80 L395.46,494.80 L395.83,494.80 L396.20,494.80 L396.57,494.80 L396.94,494.80 L397.31,494.80 L397.68,494.80 L398.05,494.80 L398.42,494.80 L398.79,494.80 L399.16,494.80 L399.54,494.80 L399.91,494.80 L400.28,494.80 L400.65,494.80 L401.02,494.80 L401.39,494.80 L401.76,494.80 L402.13,494.80 L402.50,494.80 L402.87,494.80 L403.24,494.80 L403.61,494.80 L403.98,494.80 L404.35,494.80 L404.72,494.80 L405.09,494.80 L405.46,494.80 L405.83,494.80 L406.20,494.80 L406.57,494.80 L406.94,494.80 L407.31,494.80 L407.68,494.80 L408.05,494.80 L408.43,494.80 L408.80,494.80 L409.17,494.80 L409.54,494.80 L409.91,494.80 L410.28,494.80 L410.65,494.80 L411.02,494.80 L411.39,494.80 L411.76,494.80 L412.13,494.80 L412.50,494.80 L412.87,494.80 L413.24,494.80 L413.61,494.80 L413.98,494.80 L414.35,494.80 L414.72,494.80 L415.09,494.80 L415.46,494.80 L415.83,494.80 L416.20,494.80 L416.57,494.80 L416.94,494.80 L417.32,494.80 L417.69,494.80 L418.06,494.80 L418.43,494.80 L418.80,494.80 L419.17,494.80 L419.54,494.80 L419.91,494.80 L420.28,494.80 L420.65,494.80 L421.02,494.80 L421.39,494.80 L421.76,494.80 L422.13,494.80 L422.50,494.80 L422.87,494.80 L423.24,494.80 L423.61,494.80 L423.98,494.80 L424.35,494.80 L424.72,494.80 L425.09,494.80 L425.46,494.80 L425.83,494.80 L426.20,494.80 L426.58,494.80 L426.95,494.80 L427.32,494.80 L427.69,494.80 L428.06,494.80 L428.43,494.80 L428.80,494.80 L429.17,494.80 L429.54,494.80 L429.91,494.80 L430.28,494.80 L430.65,494.80 L431.02,494.80 L431.39,494.80 L431.76,494.80 L432.13,494.80 L432.50,494.80 L432.87,494.80 L433.24,494.80 L433.61,494.80 L433.98,494.80 L434.35,494.80 L434.72,494.80 L435.09,494.80 L435.47,494.80 L435.84,494.80 L436.21,494.80 L436.58,494.80 L436.95,494.80 L437.32,494.80 L437.69,494.80 L438.06,494.80 L438.43,494.80 L438.80,494.80 L439.17,494.80 L439.54,494.80 L439.91,494.80 L440.28,494.80 L440.65,494.80 L441.02,494.80 L441.39,494.80 L441.76,494.80 L442.13,494.80 L442.50,494.80 L442.87,494.80 L443.24,494.80 L443.61,494.80 L443.98,494.80 L444.36,494.80 L444.73,494.80 L445.10,494.80 L445.47,494.80 L445.84,494.80 L446.21,494.80 L446.58,494.80 L446.95,494.80 L447.32,494.80 L447.69,494.80 L448.06,494.80 L448.43,494.80 L448.80,494.80"/>
<path stroke="#0000ff" stroke-dasharray="3.86 5.78" stroke-dashoffset="3.08" d="M781.80,132.69 L781.43,134.15 L781.06,135.61 L780.69,137.08 L780.32,138.56 L779.95,140.03 L779.58,141.51 L779.21,142.99 L778.84,144.47 L778.47,145.96 L778.10,147.45 L777.73,148.94 L777.36,150.43 L776.98,151.93 L776.61,153.43 L776.24,154.93 L775.87,156.43 L775.50,157.94 L775.13,159.45 L774.76,160.97 L774.39,162.48 L774.02,164.00 L773.65,165.52 L773.28,167.04 L772.91,168.57 L772.54,170.10 L772.17,171.63 L771.80,173.16 L771.43,174.70 L771.06,176.23 L770.69,177.77 L770.32,179.32 L769.95,180.86 L769.58,182.41 L769.21,183.96 L768.84,185.51 L768.47,187.07 L768.09,188.62 L767.72,190.18 L767.35,191.74 L766.98,193.30 L766.61,194.87 L766.24,196.44 L765.87,198.01 L765.50,199.58 L765.13,201.15 L764.76,202.73 L764.39,204.30 L764.02,205.88 L763.65,207.46 L763.28,209.05 L762.91,210.63 L762.54,212.22 L762.17,213.80 L761.80,215.39 L761.43,216.99 L761.06,218.58 L760.69,220.17 L760.32,221.77 L759.95,223.37 L759.58,224.97 L759.20,226.57 L758.83,228.17 L758.46,229.77 L758.09,231.38 L757.72,232.99 L757.35,234.59 L756.98,236.20 L756.61,237.81 L756.24,239.42 L755.87,241.04 L755.50,242.65 L755.13,244.27 L754.76,245.88 L754.39,247.50 L754.02,249.12 L753.65,250.73 L753.28,252.35 L752.91,253.97 L752.54,255.60 L752.17,257.22 L751.80,258.84 L751.43,260.46 L751.06,262.09 L750.69,263.71 L750.32,265.34 L749.94,266.96 L749.57,268.59 L749.20,270.22 L748.83,271.84 L748.46,273.47 L748.09,275.10 L747.72,276.72 L747.35,278.35 L746.98,279.98 L746.61,281.61 L746.24,283.24 L745.87,284.87 L745.50,286.50 L745.13,288.12 L744.76,289.75 L744.39,291.38 L744.02,293.01 L743.65,294.64 L743.28,296.27 L742.91,297.89 L742.54,299.52 L742.17,301.15 L741.80,302.77 L741.43,304.40 L741.05,306.03 L740.68,307.65 L740.31,309.28 L739.94,310.90 L739.57,312.53 L739.20,314.15 L738.83,315.78 L738.46,317.41 L738.09,319.03 L737.72,320.66 L737.35,322.29 L736.98,323.92 L736.61,325.55 L736.24,327.18 L735.87,328.82 L735.50,330.45 L735.13,332.09 L734.76,333.72 L734.39,335.36 L734.02,337.00 L733.65,338.65 L733.28,340.29 L732.91,341.94 L732.54,343.59 L732.16,345.24 L731.79,346.89 L731.42,348.55 L731.05,350.21 L730.68,351.87 L730.31,353.54 L729.94,355.21 L729.57,356.88 L729.20,358.55 L728.83,360.23 L728.46,361.92 L728.09,363.60 L727.72,365.30 L727.35,366.99 L726.98,368.69 L726.61,370.40 L726.24,372.10 L725.87,373.82 L725.50,375.54 L725.13,377.26 L724.76,378.99 L724.39,380.72 L724.02,382.46 L723.65,384.20 L723.27,385.93 L722.90,387.66 L722.53,389.38 L722.16,391.10 L721.79,392.80 L721.42,394.50 L721.05,396.18 L720.68,397.85 L720.31,399.50 L719.94,401.13 L719.57,402.74 L719.20,404.34 L718.83,405.91 L718.46,407.47 L718.09,409.00 L717.72,410.52 L717.35,412.01 L716.98,413.47 L716.61,414.92 L716.24,416.34 L715.87,417.74 L715.50,419.12 L715.13,420.48 L714.76,421.81 L714.39,423.12 L714.01,424.41 L713.64,425.68 L713.27,426.93 L712.90,428.16 L712.53,429.37 L712.16,430.55 L711.79,431.72 L711.42,432.87 L711.05,434.00 L710.68,435.12 L710.31,436.21 L709.94,437.29 L709.57,438.35 L709.20,439.40 L708.83,440.42 L708.46,441.44 L708.09,442.43 L707.72,443.41 L707.35,444.38 L706.98,445.33 L706.61,446.27 L706.24,447.20 L705.87,448.11 L705.50,449.01 L705.12,449.89 L704.75,450.77 L704.38,451.63 L704.01,452.48 L703.64,453.32 L703.27,454.14 L702.90,454.95 L702.53,455.75 L702.16,456.53 L701.79,457.30 L701.42,458.05 L701.05,458.79 L700.68,459.52 L700.31,460.22 L699.94,460.92 L699.57,461.60 L699.20,462.26 L698.83,462.91 L698.46,463.54 L698.09,464.16 L697.72,464.77 L697.35,465.36 L696.98,465.93 L696.61,466.50 L696.23,467.05 L695.86,467.59 L695.49,468.11 L695.12,468.62 L694.75,469.12 L694.38,469.61 L694.01,470.08 L693.64,470.54 L693.27,470.99 L692.90,471.43 L692.53,471.86 L692.16,472.28 L691.79,472.69 L691.42,473.09 L691.05,473.47 L690.68,473.85 L690.31,474.22 L689.94,474.58 L689.57,474.93 L689.20,475.27 L688.83,475.60 L688.46,475.92 L688.09,476.24 L687.72,476.54 L687.35,476.84 L686.97,477.13 L686.60,477.42 L686.23,477.70 L685.86,477.97 L685.49,478.23 L685.12,478.49 L684.75,478.75 L684.38,479.00 L684.01,479.24 L683.64,479.48 L683.27,479.71 L682.90,479.94 L682.53,480.16 L682.16,480.38 L681.79,480.60 L681.42,480.81 L681.05,481.01 L680.68,481.21 L680.31,481.41 L679.94,481.61 L679.57,481.80 L679.20,481.99 L678.83,482.17 L678.46,482.35 L678.08,482.53 L677.71,482.70 L677.34,482.87 L676.97,483.04 L676.60,483.20 L676.23,483.36 L675.86,483.52 L675.49,483.68 L675.12,483.83 L674.75,483.98 L674.38,484.13 L674.01,484.27 L673.64,484.41 L673.27,484.55 L672.90,484.69 L672.53,484.83 L672.16,484.96 L671.79,485.09 L671.42,485.22 L671.05,485.34 L670.68,485.46 L670.31,485.58 L669.94,485.70 L669.57,485.82 L669.19,485.93 L668.82,486.05 L668.45,486.16 L668.08,486.27 L667.71,486.37 L667.34,486.48 L666.97,486.58 L666.60,486.68 L666.23,486.78 L665.86,486.88 L665.49,486.97 L665.12,487.07 L664.75,487.16 L664.38,487.25 L664.01,487.34 L663.64,487.42 L663.27,487.51 L662.90,487.59 L662.53,487.68 L662.16,487.76 L661.79,487.84 L661.42,487.92 L661.05,487.99 L660.68,488.07 L660.31,488.14 L659.93,488.21 L659.56,488.29 L659.19,488.36 L658.82,488.42 L658.45,488.49 L658.08,488.56 L657.71,488.62 L657.34,488.69 L656.97,488.75 L656.60,488.81 L656.23,488.87 L655.86,488.93 L655.49,488.99 L655.12,489.05 L654.75,489.10 L654.38,489.16 L654.01,489.21 L653.64,489.27 L653.27,489.32 L652.90,489.37 L652.53,489.42 L652.16,489.47 L651.79,489.52 L651.42,489.57 L651.04,489.62 L650.67,489.66 L650.30,489.71 L649.93,489.75 L649.56,489.80 L649.19,489.84 L648.82,489.88 L648.45,489.93 L648.08,489.97 L647.71,490.01 L647.34,490.05 L646.97,490.09 L646.60,490.13 L646.23,490.17 L645.86,490.21 L645.49,490.24 L645.12,490.28 L644.75,490.32 L644.38,490.35 L644.01,490.39 L643.64,490.42 L643.27,490.46 L642.90,490.49 L642.53,490.53 L642.15,490.56 L641.78,490.60 L641.41,490.63 L641.04,490.66 L640.67,490.69 L640.30,490.73 L639.93,490.76 L639.56,490.79 L639.19,490.82 L638.82,490.85 L638.45,490.88 L638.08,490.92 L637.71,490.95 L637.34,490.98 L636.97,491.01 L636.60,491.04 L636.23,491.07 L635.86,491.10 L635.49,491.13 L635.12,491.16 L634.75,491.19 L634.38,491.22 L634.01,491.25 L633.64,491.28 L633.26,491.31 L632.89,491.34 L632.52,491.37 L632.15,491.40 L631.78,491.43 L631.41,491.45 L631.04,491.48 L630.67,491.51 L630.30,491.54 L629.93,491.57 L629.56,491.60 L629.19,491.62 L628.82,491.65 L628.45,491.68 L628.08,491.71 L627.71,491.73 L627.34,491.76 L626.97,491.79 L626.60,491.81 L626.23,491.84 L625.86,491.87 L625.49,491.89 L625.12,491.92 L624.75,491.95 L624.38,491.97 L624.00,492.00 L623.63,492.02 L623.26,492.05 L622.89,492.07 L622.52,492.10 L622.15,492.13 L621.78,492.15 L621.41,492.18 L621.04,492.20 L620.67,492.22 L620.30,492.25 L619.93,492.27 L619.56,492.30 L619.19,492.32 L618.82,492.35 L618.45,492.37 L618.08,492.39 L617.71,492.42 L617.34,492.44 L616.97,492.46 L616.60,492.49 L616.23,492.51 L615.86,492.53 L615.49,492.56 L615.11,492.58 L614.74,492.60 L614.37,492.62 L614.00,492.65 L613.63,492.67 L613.26,492.69 L612.89,492.71 L612.52,492.73 L612.15,492.75 L611.78,492.78 L611.41,492.80 L611.04,492.82 L610.67,492.84 L610.30,492.86 L609.93,492.88 L609.56,492.90 L609.19,492.92 L608.82,492.94 L608.45,492.96 L608.08,492.98 L607.71,493.00 L607.34,493.02 L606.97,493.04 L606.60,493.06 L606.22,493.08 L605.85,493.10 L605.48,493.12 L605.11,493.14 L604.74,493.16 L604.37,493.18 L604.00,493.20 L603.63,493.21 L603.26,493.23 L602.89,493.25 L602.52,493.27 L602.15,493.29 L601.78,493.31 L601.41,493.32 L601.04,493.34 L600.67,493.36 L600.30,493.38 L599.93,493.39 L599.56,493.41 L599.19,493.43 L598.82,493.45 L598.45,493.46 L598.08,493.48 L597.71,493.50 L597.34,493.51 L596.96,493.53 L596.59,493.54 L596.22,493.56 L595.85,493.58 L595.48,493.59 L595.11,493.61 L594.74,493.62 L594.37,493.64 L594.00,493.65 L593.63,493.67 L593.26,493.69 L592.89,493.70 L592.52,493.72 L592.15,493.73 L591.78,493.74 L591.41,493.76 L591.04,493.77 L590.67,493.79 L590.30,493.80 L589.93,493.82 L589.56,493.83 L589.19,493.84 L588.82,493.86 L588.45,493.87 L588.07,493.89 L587.70,493.90 L587.33,493.91 L586.96,493.93 L586.59,493.94 L586.22,493.95 L585.85,493.96 L585.48,493.98 L585.11,493.99 L584.74,494.00 L584.37,494.01 L584.00,494.03 L583.63,494.04 L583.26,494.05 L582.89,494.06 L582.52,494.07 L582.15,494.09 L581.78,494.10 L581.41,494.11 L581.04,494.12 L580.67,494.13 L580.30,494.14 L579.93,494.15 L579.56,494.17 L579.18,494.18 L578.81,494.19 L578.44,494.20 L578.07,494.21 L577.70,494.22 L577.33,494.23 L576.96,494.24 L576.59,494.25 L576.22,494.26 L575.85,494.27 L575.48,494.28 L575.11,494.29 L574.74,494.30 L574.37,494.31 L574.00,494.32 L573.63,494.33 L573.26,494.34 L572.89,494.34 L572.52,494.35 L572.15,494.36 L571.78,494.37 L571.41,494.38 L571.04,494.39 L570.67,494.40 L570.29,494.40 L569.92,494.41 L569.55,494.42 L569.18,494.43 L568.81,494.44 L568.44,494.44 L568.07,494.45 L567.70,494.46 L567.33,494.47 L566.96,494.48 L566.59,494.48 L566.22,494.49 L565.85,494.50 L565.48,494.50 L565.11,494.51 L564.74,494.52 L564.37,494.53 L564.00,494.53 L563.63,494.54 L563.26,494.54 L562.89,494.55 L562.52,494.56 L562.15,494.56 L561.78,494.57 L561.41,494.58 L561.03,494.58 L560.66,494.59 L560.29,494.59 L559.92,494.60 L559.55,494.61 L559.18,494.61 L558.81,494.62 L558.44,494.62 L558.07,494.63 L557.70,494.63 L557.33,494.64 L556.96,494.64 L556.59,494.65 L556.22,494.65 L555.85,494.66 L555.48,494.66 L555.11,494.67 L554.74,494.67 L554.37,494.68 L554.00,494.68 L553.63,494.69 L553.26,494.69 L552.89,494.69 L552.52,494.70 L552.14,494.70 L551.77,494.71 L551.40,494.71 L551.03,494.71 L550.66,494.72 L550.29,494.72 L549.92,494.72 L549.55,494.73 L549.18,494.73 L548.81,494.74 L548.44,494.74 L548.07,494.74 L547.70,494.75 L547.33,494.75 L546.96,494.75 L546.59,494.75 L546.22,494.76 L545.85,494.76 L545.48,494.76 L545.11,494.77 L544.74,494.77 L544.37,494.77 L544.00,494.77 L543.63,494.78 L543.25,494.78 L542.88,494.78 L542.51,494.78 L542.14,494.79 L541.77,494.79 L541.40,494.79 L541.03,494.79 L540.66,494.79 L540.29,494.80 L539.92,494.80 L539.55,494.80 L539.18,494.80 L538.81,494.80 L538.44,494.80 L538.07,494.80 L537.70,494.80 L537.33,494.80 L536.96,494.80 L536.59,494.80 L536.22,494.80 L535.85,494.80 L535.48,494.80 L535.11,494.80 L534.74,494.80 L534.37,494.80 L533.99,494.80 L533.62,494.80 L533.25,494.80 L532.88,494.80 L532.51,494.80 L532.14,494.80 L531.77,494.80 L531.40,494.80 L531.03,494.80 L530.66,494.80 L530.29,494.80 L529.92,494.80 L529.55,494.80 L529.18,494.80 L528.81,494.80 L528.44,494.80 L528.07,494.80 L527.70,494.80 L527.33,494.80 L526.96,494.80 L526.59,494.80 L526.22,494.80 L525.85,494.80 L525.48,494.80 L525.10,494.80 L524.73,494.80 L524.36,494.80 L523.99,494.80 L523.62,494.80 L523.25,494.80 L522.88,494.80 L522.51,494.80 L522.14,494.80 L521.77,494.80 L521.40,494.80 L521.03,494.80 L520.66,494.80 L520.29,494.80 L519.92,494.80 L519.55,494.80 L519.18,494.80 L518.81,494.80 L518.44,494.80 L518.07,494.80 L517.70,494.80 L517.33,494.80 L516.96,494.80 L516.59,494.80 L516.21,494.80 L515.84,494.80 L515.47,494.80 L515.10,494.80 L514.73,494.80 L514.36,494.80 L513.99,494.80 L513.62,494.80 L513.25,494.80 L512.88,494.80 L512.51,494.80 L512.14,494.80 L511.77,494.80 L511.40,494.80 L511.03,494.80 L510.66,494.80 L510.29,494.80 L509.92,494.80 L509.55,494.80 L509.18,494.80 L508.81,494.80 L508.44,494.80 L508.07,494.80 L507.70,494.80 L507.33,494.80 L506.95,494.80 L506.58,494.80 L506.21,494.80 L505.84,494.80 L505.47,494.80 L505.10,494.80 L504.73,494.80 L504.36,494.80 L503.99,494.80 L503.62,494.80 L503.25,494.80 L502.88,494.80 L502.51,494.80 L502.14,494.80 L501.77,494.80 L501.40,494.80 L501.03,494.80 L500.66,494.80 L500.29,494.80 L499.92,494.80 L499.55,494.80 L499.18,494.80 L498.81,494.80 L498.44,494.80 L498.06,494.80 L497.69,494.80 L497.32,494.80 L496.95,494.80 L496.58,494.80 L496.21,494.80 L495.84,494.80 L495.47,494.80 L495.10,494.80 L494.73,494.80 L494.36,494.80 L493.99,494.80 L493.62,494.80 L493.25,494.80 L492.88,494.80 L492.51,494.80 L492.14,494.80 L491.77,494.80 L491.40,494.80 L491.03,494.80 L490.66,494.80 L490.29,494.80 L489.92,494.80 L489.55,494.80 L489.17,494.80 L488.80,494.80 L488.43,494.80 L488.06,494.80 L487.69,494.80 L487.32,494.80 L486.95,494.80 L486.58,494.80 L486.21,494.80 L485.84,494.80 L485.47,494.80 L485.10,494.80 L484.73,494.80 L484.36,494.80 L483.99,494.80 L483.62,494.80 L483.25,494.80 L482.88,494.80 L482.51,494.80 L482.14,494.80 L481.77,494.80 L481.40,494.80 L481.03,494.80 L480.66,494.80 L480.28,494.80 L479.91,494.80 L479.54,494.80 L479.17,494.80 L478.80,494.80 L478.43,494.80 L478.06,494.80 L477.69,494.80 L477.32,494.80 L476.95,494.80 L476.58,494.80 L476.21,494.80 L475.84,494.80 L475.47,494.80 L475.10,494.80 L474.73,494.80 L474.36,494.80 L473.99,494.80 L473.62,494.80 L473.25,494.80 L472.88,494.80 L472.51,494.80 L472.14,494.80 L471.77,494.80 L471.40,494.80 L471.02,494.80 L470.65,494.80 L470.28,494.80 L469.91,494.80 L469.54,494.80 L469.17,494.80 L468.80,494.80 L468.43,494.80 L468.06,494.80 L467.69,494.80 L467.32,494.80 L466.95,494.80 L466.58,494.80 L466.21,494.80 L465.84,494.80 L465.47,494.80 L465.10,494.80 L464.73,494.80 L464.36,494.80 L463.99,494.80 L463.62,494.80 L463.25,494.80 L462.88,494.80 L462.51,494.80 L462.13,494.80 L461.76,494.80 L461.39,494.80 L461.02,494.80 L460.65,494.80 L460.28,494.80 L459.91,494.80 L459.54,494.80 L459.17,494.80 L458.80,494.80 L458.43,494.80 L458.06,494.80 L457.69,494.80 L457.32,494.80 L456.95,494.80 L456.58,494.80 L456.21,494.80 L455.84,494.80 L455.47,494.80 L455.10,494.80 L454.73,494.80 L454.36,494.80 L453.99,494.80 L453.62,494.80 L453.24,494.80 L452.87,494.80 L452.50,494.80 L452.13,494.80 L451.76,494.80 L451.39,494.80 L451.02,494.80 L450.65,494.80 L450.28,494.80 L449.91,494.80 L449.54,494.80 L449.17,494.80 L448.80,494.80"/>
<path stroke="#ff00ff" stroke-dasharray="1.93 2.89" stroke-dashoffset="1.82" d="M115.80,64.59 L116.17,66.62 L116.54,68.66 L116.91,70.70 L117.28,72.76 L117.65,74.82 L118.02,76.90 L118.39,78.98 L118.76,81.07 L119.13,83.17 L119.50,85.28 L119.87,87.41 L120.24,89.54 L120.62,91.68 L120.99,93.83 L121.36,95.99 L121.73,98.16 L122.10,100.34 L122.47,102.53 L122.84,104.73 L123.21,106.94 L123.58,109.16 L123.95,111.39 L124.32,113.64 L124.69,115.89 L125.06,118.16 L125.43,120.43 L125.80,122.72 L126.17,125.02 L126.54,127.32 L126.91,129.65 L127.28,131.98 L127.65,134.32 L128.02,136.68 L128.39,139.04 L128.76,141.42 L129.13,143.82 L129.51,146.22 L129.88,148.63 L130.25,151.06 L130.62,153.50 L130.99,155.96 L131.36,158.42 L131.73,160.90 L132.10,163.39 L132.47,165.90 L132.84,168.42 L133.21,170.95 L133.58,173.50 L133.95,176.05 L134.32,178.63 L134.69,181.21 L135.06,183.81 L135.43,186.43 L135.80,189.06 L136.17,191.70 L136.54,194.36 L136.91,197.03 L137.28,199.72 L137.65,202.42 L138.02,205.14 L138.40,207.87 L138.77,210.62 L139.14,213.39 L139.51,216.17 L139.88,218.96 L140.25,221.78 L140.62,224.60 L140.99,227.45 L141.36,230.31 L141.73,233.19 L142.10,236.08 L142.47,238.99 L142.84,241.92 L143.21,244.87 L143.58,247.83 L143.95,250.81 L144.32,253.81 L144.69,256.82 L145.06,259.86 L145.43,262.91 L145.80,265.98 L146.17,269.07 L146.54,272.18 L146.91,275.31 L147.28,278.45 L147.66,281.62 L148.03,284.80 L148.40,288.01 L148.77,291.23 L149.14,294.47 L149.51,297.74 L149.88,301.02 L150.25,304.33 L150.62,307.65 L150.99,311.00 L151.36,314.36 L151.73,317.75 L152.10,321.16 L152.47,324.58 L152.84,328.03 L153.21,331.51 L153.58,335.00 L153.95,338.51 L154.32,342.03 L154.69,345.55 L155.06,349.07 L155.43,352.58 L155.80,356.07 L156.17,359.54 L156.55,362.98 L156.92,366.39 L157.29,369.75 L157.66,373.08 L158.03,376.35 L158.40,379.58 L158.77,382.75 L159.14,385.86 L159.51,388.92 L159.88,391.93 L160.25,394.88 L160.62,397.77 L160.99,400.60 L161.36,403.37 L161.73,406.09 L162.10,408.76 L162.47,411.37 L162.84,413.93 L163.21,416.44 L163.58,418.90 L163.95,421.31 L164.32,423.67 L164.69,425.98 L165.06,428.26 L165.44,430.48 L165.81,432.67 L166.18,434.81 L166.55,436.92 L166.92,438.99 L167.29,441.02 L167.66,443.01 L168.03,444.95 L168.40,446.82 L168.77,448.61 L169.14,450.30 L169.51,451.89 L169.88,453.40 L170.25,454.81 L170.62,456.15 L170.99,457.41 L171.36,458.60 L171.73,459.72 L172.10,460.78 L172.47,461.79 L172.84,462.75 L173.21,463.67 L173.58,464.54 L173.95,465.37 L174.33,466.17 L174.70,466.93 L175.07,467.66 L175.44,468.37 L175.81,469.04 L176.18,469.69 L176.55,470.32 L176.92,470.93 L177.29,471.51 L177.66,472.08 L178.03,472.63 L178.40,473.16 L178.77,473.68 L179.14,474.18 L179.51,474.66 L179.88,475.13 L180.25,475.59 L180.62,476.03 L180.99,476.46 L181.36,476.88 L181.73,477.29 L182.10,477.69 L182.47,478.07 L182.84,478.44 L183.21,478.81 L183.59,479.16 L183.96,479.50 L184.33,479.83 L184.70,480.16 L185.07,480.47 L185.44,480.78 L185.81,481.07 L186.18,481.36 L186.55,481.64 L186.92,481.91 L187.29,482.18 L187.66,482.43 L188.03,482.68 L188.40,482.92 L188.77,483.16 L189.14,483.39 L189.51,483.61 L189.88,483.83 L190.25,484.04 L190.62,484.25 L190.99,484.45 L191.36,484.64 L191.73,484.83 L192.10,485.02 L192.48,485.20 L192.85,485.38 L193.22,485.55 L193.59,485.72 L193.96,485.89 L194.33,486.05 L194.70,486.21 L195.07,486.37 L195.44,486.52 L195.81,486.67 L196.18,486.82 L196.55,486.96 L196.92,487.10 L197.29,487.24 L197.66,487.37 L198.03,487.50 L198.40,487.63 L198.77,487.76 L199.14,487.89 L199.51,488.01 L199.88,488.13 L200.25,488.25 L200.62,488.37 L200.99,488.48 L201.37,488.59 L201.74,488.71 L202.11,488.81 L202.48,488.92 L202.85,489.03 L203.22,489.13 L203.59,489.24 L203.96,489.34 L204.33,489.44 L204.70,489.54 L205.07,489.64 L205.44,489.73 L205.81,489.83 L206.18,489.92 L206.55,490.02 L206.92,490.11 L207.29,490.20 L207.66,490.29 L208.03,490.38 L208.40,490.46 L208.77,490.55 L209.14,490.63 L209.51,490.72 L209.88,490.80 L210.25,490.88 L210.63,490.96 L211.00,491.04 L211.37,491.12 L211.74,491.20 L212.11,491.27 L212.48,491.35 L212.85,491.42 L213.22,491.49 L213.59,491.56 L213.96,491.63 L214.33,491.70 L214.70,491.77 L215.07,491.84 L215.44,491.90 L215.81,491.97 L216.18,492.03 L216.55,492.09 L216.92,492.16 L217.29,492.22 L217.66,492.28 L218.03,492.34 L218.40,492.39 L218.77,492.45 L219.14,492.51 L219.52,492.56 L219.89,492.62 L220.26,492.67 L220.63,492.72 L221.00,492.78 L221.37,492.83 L221.74,492.88 L222.11,492.93 L222.48,492.97 L222.85,493.02 L223.22,493.07 L223.59,493.11 L223.96,493.16 L224.33,493.20 L224.70,493.24 L225.07,493.29 L225.44,493.33 L225.81,493.37 L226.18,493.41 L226.55,493.45 L226.92,493.49 L227.29,493.52 L227.66,493.56 L228.03,493.60 L228.41,493.63 L228.78,493.67 L229.15,493.70 L229.52,493.73 L229.89,493.77 L230.26,493.80 L230.63,493.83 L231.00,493.86 L231.37,493.89 L231.74,493.92 L232.11,493.95 L232.48,493.97 L232.85,494.00 L233.22,494.03 L233.59,494.05 L233.96,494.08 L234.33,494.10 L234.70,494.13 L235.07,494.15 L235.44,494.17 L235.81,494.19 L236.18,494.22 L236.55,494.24 L236.92,494.26 L237.29,494.28 L237.67,494.30 L238.04,494.32 L238.41,494.33 L238.78,494.35 L239.15,494.37 L239.52,494.38 L239.89,494.40 L240.26,494.42 L240.63,494.43 L241.00,494.45 L241.37,494.46 L241.74,494.47 L242.11,494.49 L242.48,494.50 L242.85,494.51 L243.22,494.52 L243.59,494.53 L243.96,494.55 L244.33,494.56 L244.70,494.57 L245.07,494.58 L245.44,494.58 L245.81,494.59 L246.18,494.60 L246.56,494.61 L246.93,494.62 L247.30,494.62 L247.67,494.63 L248.04,494.64 L248.41,494.64 L248.78,494.65 L249.15,494.66 L249.52,494.66 L249.89,494.67 L250.26,494.67 L250.63,494.67 L251.00,494.68 L251.37,494.68 L251.74,494.69 L252.11,494.69 L252.48,494.69 L252.85,494.69 L253.22,494.70 L253.59,494.70 L253.96,494.70 L254.33,494.70 L254.70,494.70 L255.07,494.70 L255.45,494.70 L255.82,494.70 L256.19,494.71 L256.56,494.71 L256.93,494.71 L257.30,494.71 L257.67,494.71 L258.04,494.71 L258.41,494.71 L258.78,494.71 L259.15,494.71 L259.52,494.71 L259.89,494.71 L260.26,494.71 L260.63,494.71 L261.00,494.71 L261.37,494.71 L261.74,494.71 L262.11,494.71 L262.48,494.71 L262.85,494.71 L263.22,494.71 L263.59,494.71 L263.96,494.71 L264.34,494.71 L264.71,494.71 L265.08,494.71 L265.45,494.71 L265.82,494.71 L266.19,494.71 L266.56,494.71 L266.93,494.71 L267.30,494.71 L267.67,494.71 L268.04,494.71 L268.41,494.71 L268.78,494.71 L269.15,494.71 L269.52,494.71 L269.89,494.71 L270.26,494.71 L270.63,494.71 L271.00,494.71 L271.37,494.71 L271.74,494.71 L272.11,494.71 L272.48,494.71 L272.85,494.71 L273.22,494.71 L273.60,494.71 L273.97,494.71 L274.34,494.71 L274.71,494.71 L275.08,494.71 L275.45,494.71 L275.82,494.71 L276.19,494.71 L276.56,494.71 L276.93,494.71 L277.30,494.71 L277.67,494.71 L278.04,494.71 L278.41,494.71 L278.78,494.71 L279.15,494.71 L279.52,494.71 L279.89,494.71 L280.26,494.71 L280.63,494.71 L281.00,494.71 L281.37,494.71 L281.74,494.71 L282.11,494.71 L282.49,494.71 L282.86,494.71 L283.23,494.71 L283.60,494.71 L283.97,494.71 L284.34,494.71 L284.71,494.71 L285.08,494.71 L285.45,494.71 L285.82,494.71 L286.19,494.71 L286.56,494.71 L286.93,494.71 L287.30,494.71 L287.67,494.71 L288.04,494.71 L288.41,494.71 L288.78,494.71 L289.15,494.71 L289.52,494.71 L289.89,494.71 L290.26,494.71 L290.63,494.71 L291.00,494.71 L291.38,494.71 L291.75,494.71 L292.12,494.71 L292.49,494.71 L292.86,494.71 L293.23,494.71 L293.60,494.71 L293.97,494.71 L294.34,494.71 L294.71,494.71 L295.08,494.71 L295.45,494.71 L295.82,494.71 L296.19,494.71 L296.56,494.71 L296.93,494.71 L297.30,494.71 L297.67,494.71 L298.04,494.71 L298.41,494.71 L298.78,494.71 L299.15,494.71 L299.52,494.71 L299.89,494.71 L300.26,494.71 L300.64,494.71 L301.01,494.71 L301.38,494.71 L301.75,494.71 L302.12,494.71 L302.49,494.71 L302.86,494.71 L303.23,494.71 L303.60,494.71 L303.97,494.71 L304.34,494.71 L304.71,494.71 L305.08,494.71 L305.45,494.71 L305.82,494.71 L306.19,494.71 L306.56,494.71 L306.93,494.71 L307.30,494.71 L307.67,494.71 L308.04,494.71 L308.41,494.71 L308.78,494.71 L309.15,494.72 L309.53,494.72 L309.90,494.72 L310.27,494.72 L310.64,494.73 L311.01,494.73 L311.38,494.73 L311.75,494.74 L312.12,494.74 L312.49,494.74 L312.86,494.74 L313.23,494.75 L313.60,494.75 L313.97,494.75 L314.34,494.76 L314.71,494.76 L315.08,494.76 L315.45,494.76 L315.82,494.77 L316.19,494.77 L316.56,494.77 L316.93,494.77 L317.30,494.78 L317.67,494.78 L318.04,494.78 L318.42,494.79 L318.79,494.79 L319.16,494.79 L319.53,494.79 L319.90,494.80 L320.27,494.80 L320.64,494.80 L321.01,494.80 L321.38,494.80 L321.75,494.80 L322.12,494.80 L322.49,494.80 L322.86,494.80 L323.23,494.80 L323.60,494.80 L323.97,494.80 L324.34,494.80 L324.71,494.80 L325.08,494.80 L325.45,494.80 L325.82,494.80 L326.19,494.80 L326.56,494.80 L326.93,494.80 L327.31,494.80 L327.68,494.80 L328.05,494.80 L328.42,494.80 L328.79,494.80 L329.16,494.80 L329.53,494.80 L329.90,494.80 L330.27,494.80 L330.64,494.80 L331.01,494.80 L331.38,494.80 L331.75,494.80 L332.12,494.80 L332.49,494.80 L332.86,494.80 L333.23,494.80 L333.60,494.80 L333.97,494.80 L334.34,494.80 L334.71,494.80 L335.08,494.80 L335.45,494.80 L335.82,494.80 L336.19,494.80 L336.57,494.80 L336.94,494.80 L337.31,494.80 L337.68,494.80 L338.05,494.80 L338.42,494.80 L338.79,494.80 L339.16,494.80 L339.53,494.80 L339.90,494.80 L340.27,494.80 L340.64,494.80 L341.01,494.80 L341.38,494.80 L341.75,494.80 L342.12,494.80 L342.49,494.80 L342.86,494.80 L343.23,494.80 L343.60,494.80 L343.97,494.80 L344.34,494.80 L344.71,494.80 L345.08,494.80 L345.46,494.80 L345.83,494.80 L346.20,494.80 L346.57,494.80 L346.94,494.80 L347.31,494.80 L347.68,494.80 L348.05,494.80 L348.42,494.80 L348.79,494.80 L349.16,494.80 L349.53,494.80 L349.90,494.80 L350.27,494.80 L350.64,494.80 L351.01,494.80 L351.38,494.80 L351.75,494.80 L352.12,494.80 L352.49,494.80 L352.86,494.80 L353.23,494.80 L353.60,494.80 L353.97,494.80 L354.35,494.80 L354.72,494.80 L355.09,494.80 L355.46,494.80 L355.83,494.80 L356.20,494.80 L356.57,494.80 L356.94,494.80 L357.31,494.80 L357.68,494.80 L358.05,494.80 L358.42,494.80 L358.79,494.80 L359.16,494.80 L359.53,494.80 L359.90,494.80 L360.27,494.80 L360.64,494.80 L361.01,494.80 L361.38,494.80 L361.75,494.80 L362.12,494.80 L362.49,494.80 L362.86,494.80 L363.23,494.80 L363.61,494.80 L363.98,494.80 L364.35,494.80 L364.72,494.80 L365.09,494.80 L365.46,494.80 L365.83,494.80 L366.20,494.80 L366.57,494.80 L366.94,494.80 L367.31,494.80 L367.68,494.80 L368.05,494.80 L368.42,494.80 L368.79,494.80 L369.16,494.80 L369.53,494.80 L369.90,494.80 L370.27,494.80 L370.64,494.80 L371.01,494.80 L371.38,494.80 L371.75,494.80 L372.12,494.80 L372.50,494.80 L372.87,494.80 L373.24,494.80 L373.61,494.80 L373.98,494.80 L374.35,494.80 L374.72,494.80 L375.09,494.80 L375.46,494.80 L375.83,494.80 L376.20,494.80 L376.57,494.80 L376.94,494.80 L377.31,494.80 L377.68,494.80 L378.05,494.80 L378.42,494.80 L378.79,494.80 L379.16,494.80 L379.53,494.80 L379.90,494.80 L380.27,494.80 L380.64,494.80 L381.01,494.80 L381.39,494.80 L381.76,494.80 L382.13,494.80 L382.50,494.80 L382.87,494.80 L383.24,494.80 L383.61,494.80 L383.98,494.80 L384.35,494.80 L384.72,494.80 L385.09,494.80 L385.46,494.80 L385.83,494.80 L386.20,494.80 L386.57,494.80 L386.94,494.80 L387.31,494.80 L387.68,494.80 L388.05,494.80 L388.42,494.80 L388.79,494.80 L389.16,494.80 L389.53,494.80 L389.90,494.80 L390.27,494.80 L390.65,494.80 L391.02,494.80 L391.39,494.80 L391.76,494.80 L392.13,494.80 L392.50,494.80 L392.87,494.80 L393.24,494.80 L393.61,494.80 L393.98,494.80 L394.35,494.80 L394.72,494.80 L395.09,494.80 L395.46,494.80 L395.83,494.80 L396.20,494.80 L396.57,494.80 L396.94,494.80 L397.31,494.80 L397.68,494.80 L398.05,494.80 L398.42,494.80 L398.79,494.80 L399.16,494.80 L399.54,494.80 L399.91,494.80 L400.28,494.80 L400.65,494.80 L401.02,494.80 L401.39,494.80 L401.76,494.80 L402.13,494.80 L402.50,494.80 L402.87,494.80 L403.24,494.80 L403.61,494.80 L403.98,494.80 L404.35,494.80 L404.72,494.80 L405.09,494.80 L405.46,494.80 L405.83,494.80 L406.20,494.80 L406.57,494.80 L406.94,494.80 L407.31,494.80 L407.68,494.80 L408.05,494.80 L408.43,494.80 L408.80,494.80 L409.17,494.80 L409.54,494.80 L409.91,494.80 L410.28,494.80 L410.65,494.80 L411.02,494.80 L411.39,494.80 L411.76,494.80 L412.13,494.80 L412.50,494.80 L412.87,494.80 L413.24,494.80 L413.61,494.80 L413.98,494.80 L414.35,494.80 L414.72,494.80 L415.09,494.80 L415.46,494.80 L415.83,494.80 L416.20,494.80 L416.57,494.80 L416.94,494.80 L417.32,494.80 L417.69,494.80 L418.06,494.80 L418.43,494.80 L418.80,494.80 L419.17,494.80 L419.54,494.80 L419.91,494.80 L420.28,494.80 L420.65,494.80 L421.02,494.80 L421.39,494.80 L421.76,494.80 L422.13,494.80 L422.50,494.80 L422.87,494.80 L423.24,494.80 L423.61,494.80 L423.98,494.80 L424.35,494.80 L424.72,494.80 L425.09,494.80 L425.46,494.80 L425.83,494.80 L426.20,494.80 L426.58,494.80 L426.95,494.80 L427.32,494.80 L427.69,494.80 L428.06,494.80 L428.43,494.80 L428.80,494.80 L429.17,494.80 L429.54,494.80 L429.91,494.80 L430.28,494.80 L430.65,494.80 L431.02,494.80 L431.39,494.80 L431.76,494.80 L432.13,494.80 L432.50,494.80 L432.87,494.80 L433.24,494.80 L433.61,494.80 L433.98,494.80 L434.35,494.80 L434.72,494.80 L435.09,494.80 L435.47,494.80 L435.84,494.80 L436.21,494.80 L436.58,494.80 L436.95,494.80 L437.32,494.80 L437.69,494.80 L438.06,494.80 L438.43,494.80 L438.80,494.80 L439.17,494.80 L439.54,494.80 L439.91,494.80 L440.28,494.80 L440.65,494.80 L441.02,494.80 L441.39,494.80 L441.76,494.80 L442.13,494.80 L442.50,494.80 L442.87,494.80 L443.24,494.80 L443.61,494.80 L443.98,494.80 L444.36,494.80 L444.73,494.80 L445.10,494.80 L445.47,494.80 L445.84,494.80 L446.21,494.80 L446.58,494.80 L446.95,494.80 L447.32,494.80 L447.69,494.80 L448.06,494.80 L448.43,494.80 L448.80,494.80"/>
<path stroke="#ff00ff" stroke-dasharray="1.93 2.89" stroke-dashoffset="2.70" d="M781.80,64.59 L781.43,66.62 L781.06,68.66 L780.69,70.70 L780.32,72.76 L779.95,74.82 L779.58,76.90 L779.21,78.98 L778.84,81.07 L778.47,83.17 L778.10,85.28 L777.73,87.41 L777.36,89.54 L776.98,91.68 L776.61,93.83 L776.24,95.99 L775.87,98.16 L775.50,100.34 L775.13,102.53 L774.76,104.73 L774.39,106.94 L774.02,109.16 L773.65,111.39 L773.28,113.64 L772.91,115.89 L772.54,118.16 L772.17,120.43 L771.80,122.72 L771.43,125.02 L771.06,127.32 L770.69,129.65 L770.32,131.98 L769.95,134.32 L769.58,136.68 L769.21,139.04 L768.84,141.42 L768.47,143.82 L768.09,146.22 L767.72,148.63 L767.35,151.06 L766.98,153.50 L766.61,155.96 L766.24,158.42 L765.87,160.90 L765.50,163.39 L765.13,165.90 L764.76,168.42 L764.39,170.95 L764.02,173.50 L763.65,176.05 L763.28,178.63 L762.91,181.21 L762.54,183.81 L762.17,186.43 L761.80,189.06 L761.43,191.70 L761.06,194.36 L760.69,197.03 L760.32,199.72 L759.95,202.42 L759.58,205.14 L759.20,207.87 L758.83,210.62 L758.46,213.39 L758.09,216.17 L757.72,218.96 L757.35,221.78 L756.98,224.60 L756.61,227.45 L756.24,230.31 L755.87,233.19 L755.50,236.08 L755.13,238.99 L754.76,241.92 L754.39,244.87 L754.02,247.83 L753.65,250.81 L753.28,253.81 L752.91,256.82 L752.54,259.86 L752.17,262.91 L751.80,265.98 L751.43,269.07 L751.06,272.18 L750.69,275.31 L750.32,278.45 L749.94,281.62 L749.57,284.80 L749.20,288.01 L748.83,291.23 L748.46,294.47 L748.09,297.74 L747.72,301.02 L747.35,304.33 L746.98,307.65 L746.61,311.00 L746.24,314.36 L745.87,317.75 L745.50,321.16 L745.13,324.58 L744.76,328.03 L744.39,331.51 L744.02,335.00 L743.65,338.51 L743.28,342.03 L742.91,345.55 L742.54,349.07 L742.17,352.58 L741.80,356.07 L741.43,359.54 L741.05,362.98 L740.68,366.39 L740.31,369.75 L739.94,373.08 L739.57,376.35 L739.20,379.58 L738.83,382.75 L738.46,385.86 L738.09,388.92 L737.72,391.93 L737.35,394.88 L736.98,397.77 L736.61,400.60 L736.24,403.37 L735.87,406.09 L735.50,408.76 L735.13,411.37 L734.76,413.93 L734.39,416.44 L734.02,418.90 L733.65,421.31 L733.28,423.67 L732.91,425.98 L732.54,428.26 L732.16,430.48 L731.79,432.67 L731.42,434.81 L731.05,436.92 L730.68,438.99 L730.31,441.02 L729.94,443.01 L729.57,444.95 L729.20,446.82 L728.83,448.61 L728.46,450.30 L728.09,451.89 L727.72,453.40 L727.35,454.81 L726.98,456.15 L726.61,457.41 L726.24,458.60 L725.87,459.72 L725.50,460.78 L725.13,461.79 L724.76,462.75 L724.39,463.67 L724.02,464.54 L723.65,465.37 L723.27,466.17 L722.90,466.93 L722.53,467.66 L722.16,468.37 L721.79,469.04 L721.42,469.69 L721.05,470.32 L720.68,470.93 L720.31,471.51 L719.94,472.08 L719.57,472.63 L719.20,473.16 L718.83,473.68 L718.46,474.18 L718.09,474.66 L717.72,475.13 L717.35,475.59 L716.98,476.03 L716.61,476.46 L716.24,476.88 L715.87,477.29 L715.50,477.69 L715.13,478.07 L714.76,478.44 L714.39,478.81 L714.01,479.16 L713.64,479.50 L713.27,479.83 L712.90,480.16 L712.53,480.47 L712.16,480.78 L711.79,481.07 L711.42,481.36 L711.05,481.64 L710.68,481.91 L710.31,482.18 L709.94,482.43 L709.57,482.68 L709.20,482.92 L708.83,483.16 L708.46,483.39 L708.09,483.61 L707.72,483.83 L707.35,484.04 L706.98,484.25 L706.61,484.45 L706.24,484.64 L705.87,484.83 L705.50,485.02 L705.12,485.20 L704.75,485.38 L704.38,485.55 L704.01,485.72 L703.64,485.89 L703.27,486.05 L702.90,486.21 L702.53,486.37 L702.16,486.52 L701.79,486.67 L701.42,486.82 L701.05,486.96 L700.68,487.10 L700.31,487.24 L699.94,487.37 L699.57,487.50 L699.20,487.63 L698.83,487.76 L698.46,487.89 L698.09,488.01 L697.72,488.13 L697.35,488.25 L696.98,488.37 L696.61,488.48 L696.23,488.59 L695.86,488.71 L695.49,488.81 L695.12,488.92 L694.75,489.03 L694.38,489.13 L694.01,489.24 L693.64,489.34 L693.27,489.44 L692.90,489.54 L692.53,489.64 L692.16,489.73 L691.79,489.83 L691.42,489.92 L691.05,490.02 L690.68,490.11 L690.31,490.20 L689.94,490.29 L689.57,490.38 L689.20,490.46 L688.83,490.55 L688.46,490.63 L688.09,490.72 L687.72,490.80 L687.35,490.88 L686.97,490.96 L686.60,491.04 L686.23,491.12 L685.86,491.20 L685.49,491.27 L685.12,491.35 L684.75,491.42 L684.38,491.49 L684.01,491.56 L683.64,491.63 L683.27,491.70 L682.90,491.77 L682.53,491.84 L682.16,491.90 L681.79,491.97 L681.42,492.03 L681.05,492.09 L680.68,492.16 L680.31,492.22 L679.94,492.28 L679.57,492.34 L679.20,492.39 L678.83,492.45 L678.46,492.51 L678.08,492.56 L677.71,492.62 L677.34,492.67 L676.97,492.72 L676.60,492.78 L676.23,492.83 L675.86,492.88 L675.49,492.93 L675.12,492.97 L674.75,493.02 L674.38,493.07 L674.01,493.11 L673.64,493.16 L673.27,493.20 L672.90,493.24 L672.53,493.29 L672.16,493.33 L671.79,493.37 L671.42,493.41 L671.05,493.45 L670.68,493.49 L670.31,493.52 L669.94,493.56 L669.57,493.60 L669.19,493.63 L668.82,493.67 L668.45,493.70 L668.08,493.73 L667.71,493.77 L667.34,493.80 L666.97,493.83 L666.60,493.86 L666.23,493.89 L665.86,493.92 L665.49,493.95 L665.12,493.97 L664.75,494.00 L664.38,494.03 L664.01,494.05 L663.64,494.08 L663.27,494.10 L662.90,494.13 L662.53,494.15 L662.16,494.17 L661.79,494.19 L661.42,494.22 L661.05,494.24 L660.68,494.26 L660.31,494.28 L659.93,494.30 L659.56,494.32 L659.19,494.33 L658.82,494.35 L658.45,494.37 L658.08,494.38 L657.71,494.40 L657.34,494.42 L656.97,494.43 L656.60,494.45 L656.23,494.46 L655.86,494.47 L655.49,494.49 L655.12,494.50 L654.75,494.51 L654.38,494.52 L654.01,494.53 L653.64,494.55 L653.27,494.56 L652.90,494.57 L652.53,494.58 L652.16,494.58 L651.79,494.59 L651.42,494.60 L651.04,494.61 L650.67,494.62 L650.30,494.62 L649.93,494.63 L649.56,494.64 L649.19,494.64 L648.82,494.65 L648.45,494.66 L648.08,494.66 L647.71,494.67 L647.34,494.67 L646.97,494.67 L646.60,494.68 L646.23,494.68 L645.86,494.69 L645.49,494.69 L645.12,494.69 L644.75,494.69 L644.38,494.70 L644.01,494.70 L643.64,494.70 L643.27,494.70 L642.90,494.70 L642.53,494.70 L642.15,494.70 L641.78,494.70 L641.41,494.71 L641.04,494.71 L640.67,494.71 L640.30,494.71 L639.93,494.71 L639.56,494.71 L639.19,494.71 L638.82,494.71 L638.45,494.71 L638.08,494.71 L637.71,494.71 L637.34,494.71 L636.97,494.71 L636.60,494.71 L636.23,494.71 L635.86,494.71 L635.49,494.71 L635.12,494.71 L634.75,494.71 L634.38,494.71 L634.01,494.71 L633.64,494.71 L633.26,494.71 L632.89,494.71 L632.52,494.71 L632.15,494.71 L631.78,494.71 L631.41,494.71 L631.04,494.71 L630.67,494.71 L630.30,494.71 L629.93,494.71 L629.56,494.71 L629.19,494.71 L628.82,494.71 L628.45,494.71 L628.08,494.71 L627.71,494.71 L627.34,494.71 L626.97,494.71 L626.60,494.71 L626.23,494.71 L625.86,494.71 L625.49,494.71 L625.12,494.71 L624.75,494.71 L624.38,494.71 L624.00,494.71 L623.63,494.71 L623.26,494.71 L622.89,494.71 L622.52,494.71 L622.15,494.71 L621.78,494.71 L621.41,494.71 L621.04,494.71 L620.67,494.71 L620.30,494.71 L619.93,494.71 L619.56,494.71 L619.19,494.71 L618.82,494.71 L618.45,494.71 L618.08,494.71 L617.71,494.71 L617.34,494.71 L616.97,494.71 L616.60,494.71 L616.23,494.71 L615.86,494.71 L615.49,494.71 L615.11,494.71 L614.74,494.71 L614.37,494.71 L614.00,494.71 L613.63,494.71 L613.26,494.71 L612.89,494.71 L612.52,494.71 L612.15,494.71 L611.78,494.71 L611.41,494.71 L611.04,494.71 L610.67,494.71 L610.30,494.71 L609.93,494.71 L609.56,494.71 L609.19,494.71 L608.82,494.71 L608.45,494.71 L608.08,494.71 L607.71,494.71 L607.34,494.71 L606.97,494.71 L606.60,494.71 L606.22,494.71 L605.85,494.71 L605.48,494.71 L605.11,494.71 L604.74,494.71 L604.37,494.71 L604.00,494.71 L603.63,494.71 L603.26,494.71 L602.89,494.71 L602.52,494.71 L602.15,494.71 L601.78,494.71 L601.41,494.71 L601.04,494.71 L600.67,494.71 L600.30,494.71 L599.93,494.71 L599.56,494.71 L599.19,494.71 L598.82,494.71 L598.45,494.71 L598.08,494.71 L597.71,494.71 L597.34,494.71 L596.96,494.71 L596.59,494.71 L596.22,494.71 L595.85,494.71 L595.48,494.71 L595.11,494.71 L594.74,494.71 L594.37,494.71 L594.00,494.71 L593.63,494.71 L593.26,494.71 L592.89,494.71 L592.52,494.71 L592.15,494.71 L591.78,494.71 L591.41,494.71 L591.04,494.71 L590.67,494.71 L590.30,494.71 L589.93,494.71 L589.56,494.71 L589.19,494.71 L588.82,494.71 L588.45,494.72 L588.07,494.72 L587.70,494.72 L587.33,494.72 L586.96,494.73 L586.59,494.73 L586.22,494.73 L585.85,494.74 L585.48,494.74 L585.11,494.74 L584.74,494.74 L584.37,494.75 L584.00,494.75 L583.63,494.75 L583.26,494.76 L582.89,494.76 L582.52,494.76 L582.15,494.76 L581.78,494.77 L581.41,494.77 L581.04,494.77 L580.67,494.77 L580.30,494.78 L579.93,494.78 L579.56,494.78 L579.18,494.79 L578.81,494.79 L578.44,494.79 L578.07,494.79 L577.70,494.80 L577.33,494.80 L576.96,494.80 L576.59,494.80 L576.22,494.80 L575.85,494.80 L575.48,494.80 L575.11,494.80 L574.74,494.80 L574.37,494.80 L574.00,494.80 L573.63,494.80 L573.26,494.80 L572.89,494.80 L572.52,494.80 L572.15,494.80 L571.78,494.80 L571.41,494.80 L571.04,494.80 L570.67,494.80 L570.29,494.80 L569.92,494.80 L569.55,494.80 L569.18,494.80 L568.81,494.80 L568.44,494.80 L568.07,494.80 L567.70,494.80 L567.33,494.80 L566.96,494.80 L566.59,494.80 L566.22,494.80 L565.85,494.80 L565.48,494.80 L565.11,494.80 L564.74,494.80 L564.37,494.80 L564.00,494.80 L563.63,494.80 L563.26,494.80 L562.89,494.80 L562.52,494.80 L562.15,494.80 L561.78,494.80 L561.41,494.80 L561.03,494.80 L560.66,494.80 L560.29,494.80 L559.92,494.80 L559.55,494.80 L559.18,494.80 L558.81,494.80 L558.44,494.80 L558.07,494.80 L557.70,494.80 L557.33,494.80 L556.96,494.80 L556.59,494.80 L556.22,494.80 L555.85,494.80 L555.48,494.80 L555.11,494.80 L554.74,494.80 L554.37,494.80 L554.00,494.80 L553.63,494.80 L553.26,494.80 L552.89,494.80 L552.52,494.80 L552.14,494.80 L551.77,494.80 L551.40,494.80 L551.03,494.80 L550.66,494.80 L550.29,494.80 L549.92,494.80 L549.55,494.80 L549.18,494.80 L548.81,494.80 L548.44,494.80 L548.07,494.80 L547.70,494.80 L547.33,494.80 L546.96,494.80 L546.59,494.80 L546.22,494.80 L545.85,494.80 L545.48,494.80 L545.11,494.80 L544.74,494.80 L544.37,494.80 L544.00,494.80 L543.63,494.80 L543.25,494.80 L542.88,494.80 L542.51,494.80 L542.14,494.80 L541.77,494.80 L541.40,494.80 L541.03,494.80 L540.66,494.80 L540.29,494.80 L539.92,494.80 L539.55,494.80 L539.18,494.80 L538.81,494.80 L538.44,494.80 L538.07,494.80 L537.70,494.80 L537.33,494.80 L536.96,494.80 L536.59,494.80 L536.22,494.80 L535.85,494.80 L535.48,494.80 L535.11,494.80 L534.74,494.80 L534.37,494.80 L533.99,494.80 L533.62,494.80 L533.25,494.80 L532.88,494.80 L532.51,494.80 L532.14,494.80 L531.77,494.80 L531.40,494.80 L531.03,494.80 L530.66,494.80 L530.29,494.80 L529.92,494.80 L529.55,494.80 L529.18,494.80 L528.81,494.80 L528.44,494.80 L528.07,494.80 L527.70,494.80 L527.33,494.80 L526.96,494.80 L526.59,494.80 L526.22,494.80 L525.85,494.80 L525.48,494.80 L525.10,494.80 L524.73,494.80 L524.36,494.80 L523.99,494.80 L523.62,494.80 L523.25,494.80 L522.88,494.80 L522.51,494.80 L522.14,494.80 L521.77,494.80 L521.40,494.80 L521.03,494.80 L520.66,494.80 L520.29,494.80 L519.92,494.80 L519.55,494.80 L519.18,494.80 L518.81,494.80 L518.44,494.80 L518.07,494.80 L517.70,494.80 L517.33,494.80 L516.96,494.80 L516.59,494.80 L516.21,494.80 L515.84,494.80 L515.47,494.80 L515.10,494.80 L514.73,494.80 L514.36,494.80 L513.99,494.80 L513.62,494.80 L513.25,494.80 L512.88,494.80 L512.51,494.80 L512.14,494.80 L511.77,494.80 L511.40,494.80 L511.03,494.80 L510.66,494.80 L510.29,494.80 L509.92,494.80 L509.55,494.80 L509.18,494.80 L508.81,494.80 L508.44,494.80 L508.07,494.80 L507.70,494.80 L507.33,494.80 L506.95,494.80 L506.58,494.80 L506.21,494.80 L505.84,494.80 L505.47,494.80 L505.10,494.80 L504.73,494.80 L504.36,494.80 L503.99,494.80 L503.62,494.80 L503.25,494.80 L502.88,494.80 L502.51,494.80 L502.14,494.80 L501.77,494.80 L501.40,494.80 L501.03,494.80 L500.66,494.80 L500.29,494.80 L499.92,494.80 L499.55,494.80 L499.18,494.80 L498.81,494.80 L498.44,494.80 L498.06,494.80 L497.69,494.80 L497.32,494.80 L496.95,494.80 L496.58,494.80 L496.21,494.80 L495.84,494.80 L495.47,494.80 L495.10,494.80 L494.73,494.80 L494.36,494.80 L493.99,494.80 L493.62,494.80 L493.25,494.80 L492.88,494.80 L492.51,494.80 L492.14,494.80 L491.77,494.80 L491.40,494.80 L491.03,494.80 L490.66,494.80 L490.29,494.80 L489.92,494.80 L489.55,494.80 L489.17,494.80 L488.80,494.80 L488.43,494.80 L488.06,494.80 L487.69,494.80 L487.32,494.80 L486.95,494.80 L486.58,494.80 L486.21,494.80 L485.84,494.80 L485.47,494.80 L485.10,494.80 L484.73,494.80 L484.36,494.80 L483.99,494.80 L483.62,494.80 L483.25,494.80 L482.88,494.80 L482.51,494.80 L482.14,494.80 L481.77,494.80 L481.40,494.80 L481.03,494.80 L480.66,494.80 L480.28,494.80 L479.91,494.80 L479.54,494.80 L479.17,494.80 L478.80,494.80 L478.43,494.80 L478.06,494.80 L477.69,494.80 L477.32,494.80 L476.95,494.80 L476.58,494.80 L476.21,494.80 L475.84,494.80 L475.47,494.80 L475.10,494.80 L474.73,494.80 L474.36,494.80 L473.99,494.80 L473.62,494.80 L473.25,494.80 L472.88,494.80 L472.51,494.80 L472.14,494.80 L471.77,494.80 L471.40,494.80 L471.02,494.80 L470.65,494.80 L470.28,494.80 L469.91,494.80 L469.54,494.80 L469.17,494.80 L468.80,494.80 L468.43,494.80 L468.06,494.80 L467.69,494.80 L467.32,494.80 L466.95,494.80 L466.58,494.80 L466.21,494.80 L465.84,494.80 L465.47,494.80 L465.10,494.80 L464.73,494.80 L464.36,494.80 L463.99,494.80 L463.62,494.80 L463.25,494.80 L462.88,494.80 L462.51,494.80 L462.13,494.80 L461.76,494.80 L461.39,494.80 L461.02,494.80 L460.65,494.80 L460.28,494.80 L459.91,494.80 L459.54,494.80 L459.17,494.80 L458.80,494.80 L458.43,494.80 L458.06,494.80 L457.69,494.80 L457.32,494.80 L456.95,494.80 L456.58,494.80 L456.21,494.80 L455.84,494.80 L455.47,494.80 L455.10,494.80 L454.73,494.80 L454.36,494.80 L453.99,494.80 L453.62,494.80 L453.24,494.80 L452.87,494.80 L452.50,494.80 L452.13,494.80 L451.76,494.80 L451.39,494.80 L451.02,494.80 L450.65,494.80 L450.28,494.80 L449.91,494.80 L449.54,494.80 L449.17,494.80 L448.80,494.80"/>
</g>
<g fill="none" stroke-width="3.0" stroke-linecap="butt">
<path stroke="#ff0000" d="M418.1,57.35 H495.2"/>
<path stroke="#00ff00" stroke-dasharray="7.71 3.86" d="M418.1,84.45 H495.2"/>
<path stroke="#0000ff" stroke-dasharray="3.86 5.78" d="M418.1,111.45 H495.2"/>
<path stroke="#ff00ff" stroke-dasharray="1.93 2.89" d="M418.1,138.0 H495.2"/>
</g>
<rect x="115.8" y="31.8" width="666.0" height="463.0" fill="none" stroke="#000" stroke-width="6.0" stroke-linejoin="miter"/>
<g font-family="'Liberation Sans', sans-serif" font-size="26.67px" fill="#000" style="text-rendering:geometricPrecision;will-change:transform">
<text transform="translate(99.10,504.20) scale(1,1.055)" text-anchor="end">0</text>
<text transform="translate(99.10,452.76) scale(1,1.055)" text-anchor="end">0.5</text>
<text transform="translate(99.50,401.31) scale(1,1.055)" text-anchor="end">1</text>
<text transform="translate(99.10,349.87) scale(1,1.055)" text-anchor="end">1.5</text>
<text transform="translate(99.10,298.42) scale(1,1.055)" text-anchor="end">2</text>
<text transform="translate(99.10,246.98) scale(1,1.055)" text-anchor="end">2.5</text>
<text transform="translate(99.10,195.53) scale(1,1.055)" text-anchor="end">3</text>
<text transform="translate(99.10,144.09) scale(1,1.055)" text-anchor="end">3.5</text>
<text transform="translate(99.10,92.64) scale(1,1.055)" text-anchor="end">4</text>
<text transform="translate(99.10,41.20) scale(1,1.055)" text-anchor="end">4.5</text>
<text transform="translate(119.20,531.20) scale(1,1.055)" text-anchor="middle">0</text>
<text transform="translate(252.40,531.20) scale(1,1.055)" text-anchor="middle">0.2</text>
<text transform="translate(385.60,531.20) scale(1,1.055)" text-anchor="middle">0.4</text>
<text transform="translate(518.80,531.20) scale(1,1.055)" text-anchor="middle">0.6</text>
<text transform="translate(652.00,531.20) scale(1,1.055)" text-anchor="middle">0.8</text>
<text transform="translate(785.80,531.20) scale(1,1.055)" text-anchor="middle">1</text>
<text transform="translate(402.10,66.45) scale(1,1.055)" text-anchor="end">1</text>
<text transform="translate(402.10,93.55) scale(1,1.055)" text-anchor="end">2</text>
<text transform="translate(402.10,120.55) scale(1,1.055)" text-anchor="end">3</text>
<text transform="translate(402.10,147.10) scale(1,1.055)" text-anchor="end">4</text>
<text transform="translate(448.30,571.00) scale(1,1.055)" text-anchor="middle">x / L</text>
<text transform="translate(30.60,338.40) rotate(-90) scale(1,1.055)" text-anchor="start">P<tspan font-size="21.34px" dy="7.30">i</tspan><tspan dy="-7.30" dx="0.3"> ( kW m</tspan><tspan font-size="21.34px" dy="-12.70">-3</tspan><tspan dy="12.70" dx="0.4"> )</tspan></text>
<rect x="85.70" y="398.51" width="5.68" height="3.60" fill="#fff"/><rect x="93.73" y="398.51" width="5.47" height="3.60" fill="#fff"/>
<rect x="63.06" y="347.06" width="5.68" height="3.60" fill="#fff"/><rect x="71.09" y="347.06" width="5.47" height="3.60" fill="#fff"/>
<rect x="779.42" y="528.40" width="5.68" height="3.60" fill="#fff"/><rect x="787.45" y="528.40" width="5.47" height="3.60" fill="#fff"/>
<rect x="388.30" y="63.65" width="5.68" height="3.60" fill="#fff"/><rect x="396.33" y="63.65" width="5.47" height="3.60" fill="#fff"/>
</g>
</svg>
</body>
</html>
